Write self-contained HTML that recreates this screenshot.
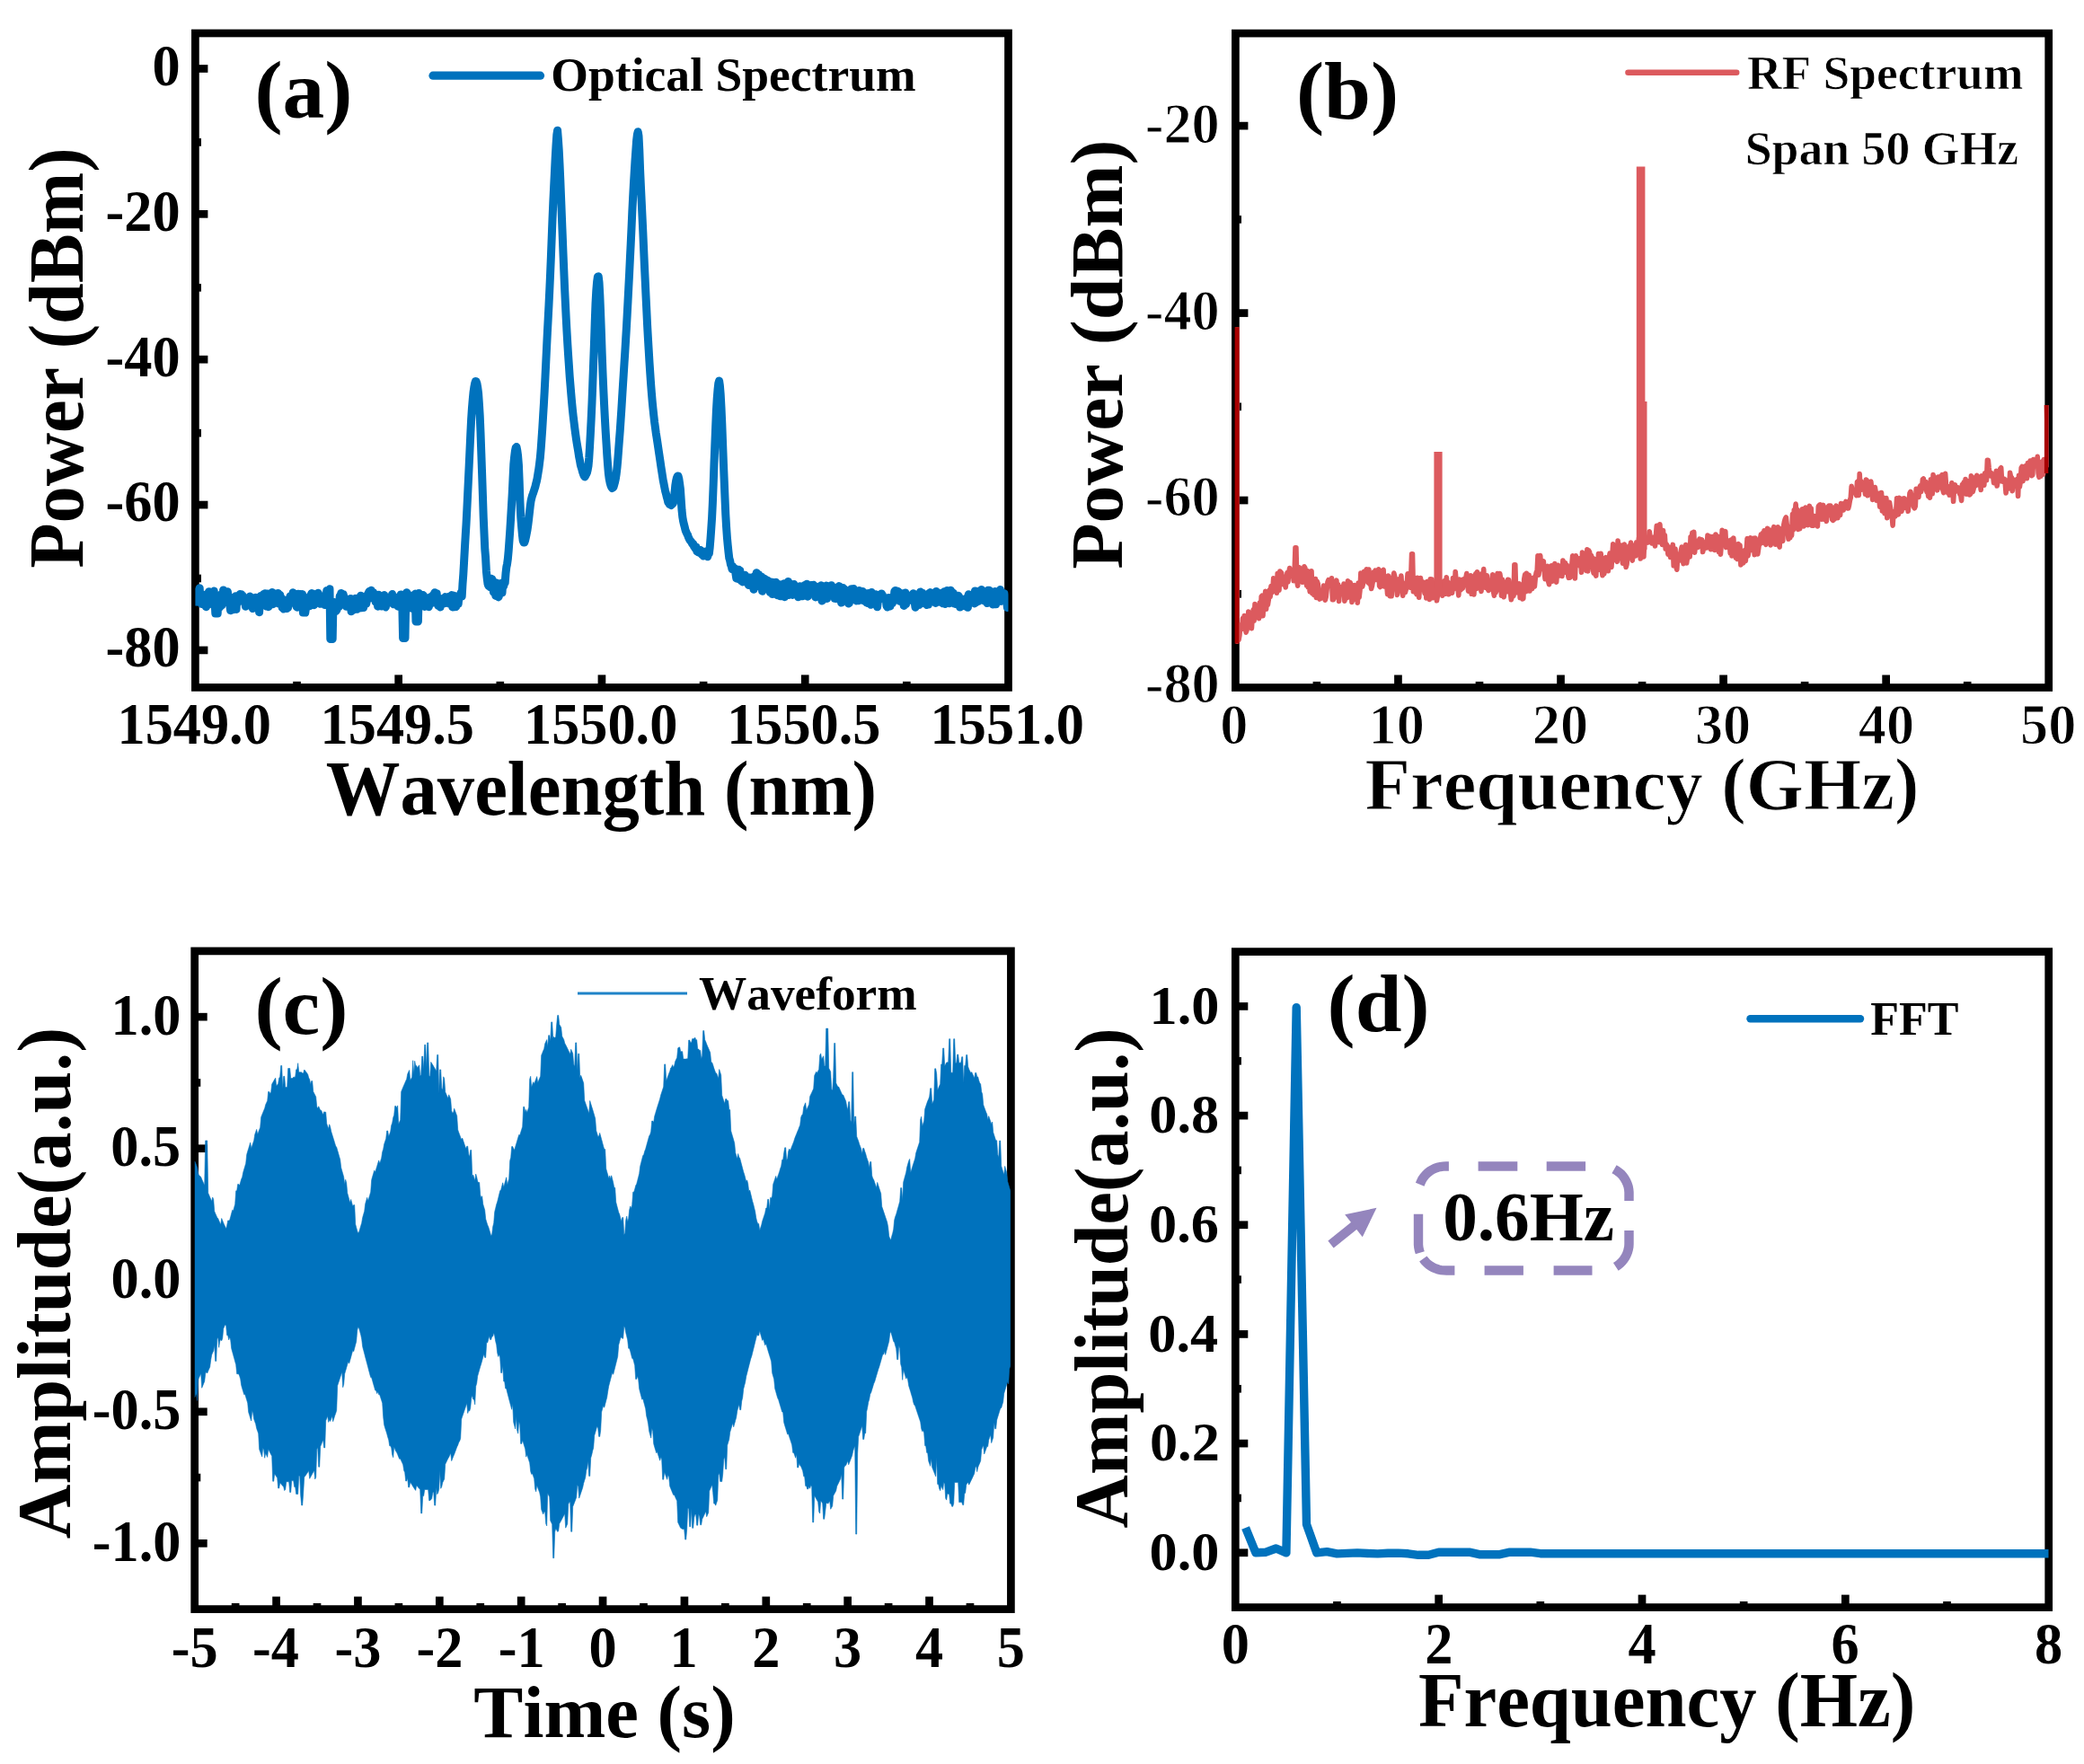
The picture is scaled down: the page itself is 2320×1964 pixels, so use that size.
<!DOCTYPE html>
<html lang="en"><head><meta charset="utf-8"><title>Figure</title>
<style>html,body{margin:0;padding:0;background:#fff;overflow:hidden;width:2320px;height:1964px}svg{display:block}text{font-family:"Liberation Serif","Times New Roman",serif;font-weight:bold;fill:#000;font-kerning:none}</style></head><body>
<svg width="2320" height="1964" viewBox="0 0 2320 1964">
<rect width="2320" height="1964" fill="#fff"/>
<defs><clipPath id="clip-a"><rect x="217.4" y="37.0" width="905.10" height="728.40"/></clipPath><clipPath id="clip-b"><rect x="1375.4" y="37.1" width="905.30" height="728.40"/></clipPath><clipPath id="clip-c"><rect x="216.7" y="1058.9" width="908.70" height="732.70"/></clipPath><clipPath id="clip-d"><rect x="1375.3" y="1059.6" width="905.40" height="730.00"/></clipPath></defs>
<g id="panel-a">
<rect x="217.4" y="37.0" width="905.10" height="728.40" fill="none" stroke="#000" stroke-width="8.7"/>
<line x1="443.68" y1="765.4" x2="443.68" y2="751.40" stroke="#000" stroke-width="8.7"/>
<line x1="669.95" y1="765.4" x2="669.95" y2="751.40" stroke="#000" stroke-width="8.7"/>
<line x1="896.23" y1="765.4" x2="896.23" y2="751.40" stroke="#000" stroke-width="8.7"/>
<line x1="330.54" y1="765.4" x2="330.54" y2="758.80" stroke="#000" stroke-width="8.7"/>
<line x1="556.81" y1="765.4" x2="556.81" y2="758.80" stroke="#000" stroke-width="8.7"/>
<line x1="783.09" y1="765.4" x2="783.09" y2="758.80" stroke="#000" stroke-width="8.7"/>
<line x1="1009.36" y1="765.4" x2="1009.36" y2="758.80" stroke="#000" stroke-width="8.7"/>
<line x1="217.4" y1="76.47" x2="231.40" y2="76.47" stroke="#000" stroke-width="8.7"/>
<line x1="217.4" y1="238.33" x2="231.40" y2="238.33" stroke="#000" stroke-width="8.7"/>
<line x1="217.4" y1="400.20" x2="231.40" y2="400.20" stroke="#000" stroke-width="8.7"/>
<line x1="217.4" y1="562.07" x2="231.40" y2="562.07" stroke="#000" stroke-width="8.7"/>
<line x1="217.4" y1="723.93" x2="231.40" y2="723.93" stroke="#000" stroke-width="8.7"/>
<line x1="217.4" y1="158.40" x2="224.00" y2="158.40" stroke="#000" stroke-width="8.7"/>
<line x1="217.4" y1="320.27" x2="224.00" y2="320.27" stroke="#000" stroke-width="8.7"/>
<line x1="217.4" y1="482.13" x2="224.00" y2="482.13" stroke="#000" stroke-width="8.7"/>
<line x1="217.4" y1="644.00" x2="224.00" y2="644.00" stroke="#000" stroke-width="8.7"/>
<path d="M217.4,674.5 218.2,661.2 219,667.1 219.8,658.3 220.6,665.4 221.4,657.6 222.2,654.8 223,669 223.8,661 224.6,672.5 225.4,666.9 226.2,668.4 227,670.3 227.8,672.8 228.6,662.8 229.4,675.7 230.2,666.1 231,660.8 231.8,673.3 232.6,658.7 233.4,666 234.2,671.6 235,660.9 235.8,670.2 236.6,666.2 237.4,667.3 238.2,658.1 239,667.4 239.8,683 240.6,683 241.4,683 242.2,683 243,665.2 243.8,676.2 244.6,676.1 245.4,662.3 246.2,671.6 247,674 247.8,669.6 248.6,656.9 249.4,660.7 250.2,664.7 251,663.6 251.8,663.8 252.6,659.5 253.4,658.8 254.2,665.6 255,671 255.8,673.3 256.6,679.7 257.4,666.7 258.2,671.2 259,678.6 259.8,678.7 260.6,665.1 261.4,674 262.2,663.8 263,678.4 263.8,666.1 264.6,670.9 265.4,666.3 266.2,664.7 267,661.6 267.8,663.5 268.6,661.7 269.4,667 270.2,663.2 271,665.8 271.8,665.8 272.6,668.1 273.4,675.3 274.2,668.4 275,667.1 275.8,669.4 276.6,668.5 277.4,666.3 278.2,664 279,668.9 279.8,665.3 280.6,672.5 281.4,677.6 282.2,676.2 283,676.2 283.8,666 284.6,665.2 285.4,667.5 286.2,673.2 287,668.2 287.8,666.9 288.6,681.7 289.4,670.4 290.2,663.4 291,669.4 291.8,671.9 292.6,667.2 293.4,661.6 294.2,669.5 295,660.7 295.8,672 296.6,675.1 297.4,660.9 298.2,671.5 299,675.7 299.8,673.2 300.6,664.3 301.4,662.6 302.2,669.1 303,659.5 303.8,672.7 304.6,666.5 305.4,663.4 306.2,670.9 307,661.5 307.8,665.3 308.6,665.7 309.4,660.4 310.2,672 311,670.5 311.8,662.6 312.6,668 313.4,665.8 314.2,676.6 315,673.3 315.8,678 316.6,674.6 317.4,676.8 318.2,668.2 319,677.5 319.8,668.1 320.6,676.5 321.4,673.2 322.2,667.7 323,663.8 323.8,670.9 324.6,670.8 325.4,669.8 326.2,659.7 327,662.2 327.8,668.2 328.6,672.1 329.4,662.5 330.2,675.7 331,676.2 331.8,661.3 332.6,670.4 333.4,665.3 334.2,661.5 335,664.3 335.8,666.1 336.6,661.6 337.4,682 338.2,682 339,682 339.8,682 340.6,676.4 341.4,667.3 342.2,665.5 343,670.2 343.8,667.8 344.6,674.7 345.4,663.3 346.2,662 347,660.6 347.8,661.9 348.6,660.9 349.4,673.7 350.2,667.4 351,665.9 351.8,669.8 352.6,663.9 353.4,668 354.2,660.3 355,661.9 355.8,667.4 356.6,672.3 357.4,665.1 358.2,669 359,665.4 359.8,664.3 360.6,669.8 361.4,673.5 362.2,673.2 363,666 363.8,657.4 364.6,658.1 365.4,661.9 366.2,666.4 367,655.8 367.8,711.5 368.6,711.5 369.4,711.5 370.2,711.5 371,670.2 371.8,675.5 372.6,675.4 373.4,678.9 374.2,680.3 375,679.1 375.8,671.5 376.6,669.7 377.4,675.5 378.2,663.7 379,665.9 379.8,660.4 380.6,663.9 381.4,667.5 382.2,661.7 383,665.1 383.8,669.8 384.6,666.5 385.4,675.2 386.2,673.2 387,669.8 387.8,675.2 388.6,671.8 389.4,670.9 390.2,666.5 391,680.8 391.8,667.7 392.6,672.5 393.4,672.6 394.2,678.7 395,668.1 395.8,666.3 396.6,674.9 397.4,678.3 398.2,670.3 399,677.4 399.8,666.3 400.6,674.7 401.4,663.3 402.2,673.7 403,676.7 403.8,666.2 404.6,676.6 405.4,672.7 406.2,668 407,663.7 407.8,672.1 408.6,667.2 409.4,667.5 410.2,660.1 411,658.6 411.8,658.1 412.6,665.8 413.4,657.2 414.2,659.9 415,664.7 415.8,659.7 416.6,662.2 417.4,662.5 418.2,670.3 419,664.3 419.8,662.5 420.6,675.2 421.4,662.3 422.2,670.5 423,669.1 423.8,665.9 424.6,675.1 425.4,674.9 426.2,669.2 427,664.9 427.8,662.5 428.6,674.5 429.4,676 430.2,664.7 431,665.9 431.8,670.6 432.6,670.8 433.4,670.7 434.2,670.1 435,670.3 435.8,671.2 436.6,661.6 437.4,669.7 438.2,672.8 439,666.6 439.8,665.6 440.6,669.6 441.4,673.2 442.2,665 443,675.2 443.8,672.8 444.6,666.2 445.4,665.4 446.2,661.9 447,664.8 447.8,673.1 448.6,710.5 449.4,710.5 450.2,710.5 451,710.5 451.8,666.7 452.6,659.7 453.4,660.3 454.2,672.3 455,667 455.8,673.4 456.6,667.1 457.4,669.1 458.2,677.2 459,670.4 459.8,663.1 460.6,669.7 461.4,662.9 462.2,661.1 463,692 463.8,692 464.6,692 465.4,692 466.2,660.6 467,668.1 467.8,662.9 468.6,663.1 469.4,666.3 470.2,663.4 471,662.6 471.8,663.5 472.6,675.4 473.4,667.2 474.2,668.8 475,673.4 475.8,674.7 476.6,674.5 477.4,675.7 478.2,670.4 479,664.8 479.8,669.8 480.6,665.4 481.4,671.2 482.2,662.5 483,670.3 483.8,659.8 484.6,666.2 485.4,666.8 486.2,660.8 487,672.2 487.8,674.3 488.6,666.1 489.4,674.2 490.2,676 491,669.9 491.8,667 492.6,671.4 493.4,667.4 494.2,670.8 495,671.8 495.8,664.6 496.6,670.4 497.4,668.4 498.2,670.1 499,664.4 499.8,671.9 500.6,663.9 501.4,668.1 502.2,669.6 503,662.6 503.8,676 504.6,671 505.4,663.3 506.2,675.8 507,673.6 507.8,675.6 508.6,670.9 509.4,668.3 510.2,672.2 511,664.2 511.8,664.4 512.6,661.4 513.4,659.4 514.2,664 515,650.1 515.8,639.3 516.6,625.3 517.4,610.7 518.2,596.8 519,583.8 519.8,567.9 520.6,551.5 521.4,534.8 522.2,518.1 523,500.8 523.8,483.2 524.6,467.2 525.4,455.1 526.2,445.3 527,436.8 527.8,431.4 528.6,427.1 529.4,424.5 530.2,424.8 531,427.2 531.8,431.7 532.6,438.1 533.4,449.6 534.2,462.7 535,481.6 535.8,504.4 536.6,526.8 537.4,550.9 538.2,575.4 539,593.8 539.8,611.6 540.6,620.9 541.4,636.1 542.2,643.9 543,650 543.8,652.3 544.6,652.4 545.4,653.7 546.2,653.7 547,644.3 547.8,644.5 548.6,647.9 549.4,659.3 550.2,651.9 551,654.2 551.8,663.4 552.6,649.1 553.4,652 554.2,654.1 555,664.9 555.8,662.5 556.6,651.2 557.4,649.6 558.2,649.2 559,660 559.8,648.8 560.6,653 561.4,649.7 562.2,648.8 563,638.6 563.8,631.5 564.6,627.7 565.4,621.8 566.2,612.9 567,601.8 567.8,590.4 568.6,577.4 569.4,564 570.2,550.2 571,533.4 571.8,517.1 572.6,508.7 573.4,502.2 574.2,498.4 575,497.6 575.8,501.6 576.6,507.7 577.4,517.3 578.2,536.7 579,560.6 579.8,576 580.6,586.1 581.4,595.1 582.2,601.9 583,604 583.8,604 584.6,601.8 585.4,598.3 586.2,594.4 587,590.1 587.8,584.6 588.6,578.2 589.4,571 590.2,563.9 591,558.1 591.8,554.6 592.6,551.6 593.4,549.5 594.2,547.1 595,544.6 595.8,542.3 596.6,538.7 597.4,535.8 598.2,531.9 599,526.7 599.8,522.1 600.6,515.7 601.4,509.1 602.2,499.7 603,488.4 603.8,476.6 604.6,463.3 605.4,450.1 606.2,435.6 607,419.6 607.8,402.7 608.6,386.1 609.4,370 610.2,355 611,339.5 611.8,322.8 612.6,304.9 613.4,285.6 614.2,264.9 615,244.5 615.8,225.8 616.6,208.9 617.4,192.8 618.2,176 619,162.1 619.8,150.3 620.6,145.2 621.4,155.1 622.2,166.8 623,182.8 623.8,200.7 624.6,220.9 625.4,241.3 626.2,261.5 627,282.3 627.8,301.8 628.6,320.9 629.4,337.6 630.2,353.9 631,369 631.8,382.7 632.6,395.5 633.4,407.2 634.2,419.3 635,429 635.8,438.7 636.6,447.9 637.4,456.2 638.2,463.6 639,470 639.8,476.6 640.6,482.6 641.4,488.3 642.2,493.5 643,498.3 643.8,503.1 644.6,508.3 645.4,512.3 646.2,517 647,520 647.8,522.5 648.6,525.5 649.4,527.9 650.2,529.8 651,530.9 651.8,529.6 652.6,528 653.4,526.3 654.2,523.1 655,518.8 655.8,509.6 656.6,496.5 657.4,481.8 658.2,465.9 659,448.1 659.8,427 660.6,405.3 661.4,383.8 662.2,359.8 663,337.9 663.8,323.6 664.6,313.8 665.4,308.1 666.2,307.7 667,314.3 667.8,328.7 668.6,348.1 669.4,369.9 670.2,393.8 671,415.3 671.8,433.6 672.6,450.7 673.4,466.2 674.2,480.8 675,493.5 675.8,506.7 676.6,517.7 677.4,527.1 678.2,533.1 679,537.2 679.8,540.1 680.6,542.2 681.4,543.5 682.2,543.1 683,542.3 683.8,539.5 684.6,536.5 685.4,532.7 686.2,527.6 687,520.6 687.8,511.5 688.6,501 689.4,490.3 690.2,480.2 691,468.3 691.8,456.3 692.6,443 693.4,429.9 694.2,417.4 695,404.5 695.8,392.1 696.6,378.4 697.4,365 698.2,350.6 699,335.6 699.8,320 700.6,304.5 701.4,287.5 702.2,271.6 703,254.2 703.8,236.1 704.6,220.2 705.4,205.2 706.2,192 707,179 707.8,167.9 708.6,156.5 709.4,149.9 710.2,146.7 711,151.6 711.8,167.2 712.6,189.5 713.4,207.1 714.2,224 715,241 715.8,258.1 716.6,276.8 717.4,294.8 718.2,311.6 719,328.9 719.8,345.2 720.6,362.1 721.4,376.5 722.2,390 723,403.5 723.8,415.6 724.6,427.5 725.4,437.6 726.2,447.2 727,455.1 727.8,462.7 728.6,469.8 729.4,475.7 730.2,481.7 731,486.7 731.8,492 732.6,497.4 733.4,502.9 734.2,508.2 735,513.5 735.8,519.1 736.6,524.2 737.4,529.4 738.2,534.6 739,538.5 739.8,542.8 740.6,546.7 741.4,549.5 742.2,552.9 743,555.7 743.8,559.2 744.6,560.1 745.4,561.6 746.2,561.9 747,562.5 747.8,561.8 748.6,561.1 749.4,560.1 750.2,556.7 751,548.7 751.8,540.4 752.6,535.5 753.4,532.1 754.2,530.1 755,529.9 755.8,533 756.6,538.4 757.4,544.4 758.2,556 759,567.8 759.8,575.6 760.6,580.2 761.4,583.6 762.2,586.7 763,590 763.8,592.2 764.6,593.9 765.4,595.3 766.2,597.6 767,599.4 767.8,601.1 768.6,602.2 769.4,602.7 770.2,604.7 771,606 771.8,605.8 772.6,608.4 773.4,609.3 774.2,610.8 775,608.9 775.8,613.8 776.6,611.6 777.4,614.8 778.2,612.9 779,615.5 779.8,612.4 780.6,616.3 781.4,617.5 782.2,616.3 783,619 783.8,617.4 784.6,615.6 785.4,614.1 786.2,614.1 787,617 787.8,619.8 788.6,615.3 789.4,616.3 790.2,609.5 791,599.6 791.8,588.3 792.6,576.1 793.4,559.2 794.2,538.6 795,516 795.8,496.5 796.6,476.7 797.4,457.6 798.2,443.9 799,434.1 799.8,426.7 800.6,424 801.4,429.5 802.2,439.2 803,454.3 803.8,472.1 804.6,494 805.4,515.3 806.2,534.4 807,554.3 807.8,572.9 808.6,586.8 809.4,598.2 810.2,606.9 811,614.7 811.8,621.5 812.6,624 813.4,628.3 814.2,630.1 815,633.7 815.8,630.7 816.6,632.9 817.4,633.8 818.2,633 819,639 819.8,643.9 820.6,643.6 821.4,644.5 822.2,634.2 823,642.6 823.8,635.1 824.6,645.6 825.4,647 826.2,640.6 827,647.9 827.8,640.9 828.6,641.7 829.4,640.2 830.2,647.5 831,645.3 831.8,645.6 832.6,645.4 833.4,651.4 834.2,643.1 835,651.5 835.8,643.3 836.6,644.5 837.4,642.7 838.2,649.7 839,656.2 839.8,643.4 840.6,640.9 841.4,645.3 842.2,637.7 843,643.8 843.8,645 844.6,639.6 845.4,653.2 846.2,645.8 847,648.2 847.8,642.3 848.6,658.2 849.4,644.9 850.2,650.6 851,644.2 851.8,644.7 852.6,646.2 853.4,649.3 854.2,646 855,652.5 855.8,655.4 856.6,648.6 857.4,659.6 858.2,648 859,656.9 859.8,661.5 860.6,656.9 861.4,648.6 862.2,648.9 863,648.6 863.8,648.2 864.6,656.8 865.4,662.7 866.2,652.4 867,658.4 867.8,650.7 868.6,663.8 869.4,653.2 870.2,651.5 871,651.3 871.8,651.2 872.6,649.8 873.4,664.7 874.2,660.5 875,650.9 875.8,658.2 876.6,655.6 877.4,647.4 878.2,662.4 879,649.8 879.8,653.2 880.6,650.4 881.4,652.7 882.2,662.4 883,660.4 883.8,650.6 884.6,659 885.4,656.6 886.2,653.1 887,659 887.8,655.3 888.6,664.7 889.4,656.1 890.2,652.8 891,663.8 891.8,653.1 892.6,661.4 893.4,663.7 894.2,661 895,663.2 895.8,651.6 896.6,655.7 897.4,658.5 898.2,650.3 899,664.2 899.8,657.6 900.6,657.9 901.4,657.6 902.2,656.7 903,651.4 903.8,652.5 904.6,654.2 905.4,651.2 906.2,660.7 907,652.9 907.8,664.9 908.6,653 909.4,655.9 910.2,664 911,659.6 911.8,654.9 912.6,660.5 913.4,655.5 914.2,651.8 915,669 915.8,668.5 916.6,663.9 917.4,657.4 918.2,661.3 919,655.1 919.8,652.1 920.6,666.4 921.4,657.7 922.2,654.3 923,661.7 923.8,656.9 924.6,661 925.4,651.8 926.2,656.8 927,656.9 927.8,654.9 928.6,654.1 929.4,666.4 930.2,666.5 931,662.6 931.8,657.9 932.6,662.8 933.4,659.6 934.2,652.6 935,662.8 935.8,665.7 936.6,671.1 937.4,667.5 938.2,654.5 939,660.9 939.8,655.8 940.6,659 941.4,664.8 942.2,661.6 943,658.6 943.8,666.5 944.6,672 945.4,671.5 946.2,656.8 947,658.8 947.8,655.7 948.6,660.1 949.4,667.6 950.2,655.5 951,664.4 951.8,661.7 952.6,663.7 953.4,668.9 954.2,661.8 955,662.5 955.8,668.8 956.6,657.4 957.4,658.4 958.2,662.2 959,661 959.8,659.3 960.6,658.6 961.4,668.9 962.2,661.8 963,660.2 963.8,667.6 964.6,670.9 965.4,668.3 966.2,671.6 967,660.5 967.8,665.9 968.6,670.4 969.4,673.3 970.2,659.5 971,669.2 971.8,662.6 972.6,665.1 973.4,670.2 974.2,672.4 975,661.7 975.8,663.9 976.6,675.8 977.4,668.8 978.2,668.4 979,662.7 979.8,665 980.6,663 981.4,660.9 982.2,662.4 983,663.7 983.8,664.8 984.6,666.1 985.4,665.4 986.2,666.3 987,674.6 987.8,675.9 988.6,675.5 989.4,665.5 990.2,672.4 991,675 991.8,666 992.6,667.2 993.4,671.9 994.2,669 995,668.6 995.8,658.5 996.6,657.6 997.4,666.8 998.2,664.1 999,658.1 999.8,658.3 1000.6,662.7 1001.4,669.3 1002.2,664.6 1003,669.5 1003.8,660.8 1004.6,669.3 1005.4,661.7 1006.2,674.5 1007,664.5 1007.8,660 1008.6,672.4 1009.4,665.3 1010.2,667.7 1011,663.1 1011.8,663.1 1012.6,665.6 1013.4,664.1 1014.2,668.3 1015,664.3 1015.8,666.6 1016.6,660.8 1017.4,669.2 1018.2,670.1 1019,676.2 1019.8,672.2 1020.6,663.6 1021.4,668 1022.2,673.4 1023,673.4 1023.8,661.4 1024.6,658.9 1025.4,666 1026.2,665.1 1027,660.1 1027.8,663.2 1028.6,664.1 1029.4,671.9 1030.2,664.4 1031,670.6 1031.8,673.5 1032.6,665.1 1033.4,673.1 1034.2,660.6 1035,666.2 1035.8,659.6 1036.6,660.5 1037.4,660.4 1038.2,666.8 1039,669 1039.8,660.5 1040.6,659.7 1041.4,671.4 1042.2,658.4 1043,662.2 1043.8,665.1 1044.6,669.9 1045.4,660.8 1046.2,664.4 1047,660.5 1047.8,670.8 1048.6,669.1 1049.4,671.7 1050.2,664.2 1051,658.8 1051.8,672.5 1052.6,658.6 1053.4,661.3 1054.2,657.4 1055,661.8 1055.8,666.8 1056.6,671.7 1057.4,664.2 1058.2,657.3 1059,670.3 1059.8,659.1 1060.6,660.4 1061.4,660.3 1062.2,672.1 1063,664.9 1063.8,672.6 1064.6,667.8 1065.4,667.7 1066.2,673 1067,663.2 1067.8,664.7 1068.6,676 1069.4,671 1070.2,667.9 1071,672.3 1071.8,674.6 1072.6,674.2 1073.4,670.4 1074.2,673.8 1075,666.4 1075.8,670.4 1076.6,676.1 1077.4,676.3 1078.2,661.8 1079,664.9 1079.8,665.6 1080.6,665.8 1081.4,664.9 1082.2,663 1083,666.2 1083.8,662.6 1084.6,671.9 1085.4,657.9 1086.2,671 1087,658.3 1087.8,669.2 1088.6,665.9 1089.4,669.3 1090.2,661.9 1091,660.3 1091.8,664.6 1092.6,656.4 1093.4,663.2 1094.2,666.8 1095,659.6 1095.8,669.1 1096.6,663 1097.4,665.5 1098.2,665.9 1099,671.6 1099.8,657.3 1100.6,659.4 1101.4,657.2 1102.2,670.6 1103,662.6 1103.8,668.8 1104.6,660.8 1105.4,673 1106.2,660.5 1107,668.5 1107.8,658.5 1108.6,672.8 1109.4,662.8 1110.2,666.7 1111,667.3 1111.8,661.8 1112.6,665.2 1113.4,656.6 1114.2,669.4 1115,664.1 1115.8,661.4 1116.6,663.3 1117.4,665.4 1118.2,660.8 1119,664.5 1119.8,669.4 1120.6,668.3 1121.4,676.6 1122.2,672.1" fill="none" stroke="#0072BD" stroke-width="9.0" stroke-linejoin="round" clip-path="url(#clip-a)"/>
<line x1="482" y1="84.2" x2="601.5" y2="84.2" stroke="#0072BD" stroke-width="9.2" stroke-linecap="round"/>
<text transform="translate(283.39,131.00) scale(1,0.9786)" font-size="93.50">(a)</text>
<text transform="translate(169.54,94.77) scale(1,1.0401)" font-size="62.30">0</text>
<text transform="translate(117.52,256.63) scale(1,1.0401)" font-size="62.30">-20</text>
<text transform="translate(117.52,418.50) scale(1,1.0401)" font-size="62.30">-40</text>
<text transform="translate(117.52,580.37) scale(1,1.0401)" font-size="62.30">-60</text>
<text transform="translate(117.52,742.23) scale(1,1.0401)" font-size="62.30">-80</text>
<text transform="translate(130.49,828.40) scale(1,1.0401)" font-size="62.30">1549.0</text>
<text transform="translate(356.61,828.40) scale(1,1.0401)" font-size="62.30">1549.5</text>
<text transform="translate(583.04,828.40) scale(1,1.0401)" font-size="62.30">1550.0</text>
<text transform="translate(809.16,828.40) scale(1,1.0401)" font-size="62.30">1550.5</text>
<text transform="translate(1035.59,828.40) scale(1,1.0401)" font-size="62.30">1551.0</text>
<text transform="translate(362.76,907.00) scale(1,1.0423)" font-size="82.70">Wavelength (nm)</text>
<text transform="translate(91.60,632.73) rotate(-90) scale(1,1.0450)" font-size="82.30">Power (dBm)</text>
<text transform="translate(613.32,101.00) scale(1,0.9701)" font-size="53.60">Optical Spectrum</text>
</g>
<g id="panel-b">
<rect x="1375.4" y="37.1" width="905.30" height="728.40" fill="none" stroke="#000" stroke-width="8.7"/>
<line x1="1556.46" y1="765.5" x2="1556.46" y2="751.50" stroke="#000" stroke-width="8.7"/>
<line x1="1737.52" y1="765.5" x2="1737.52" y2="751.50" stroke="#000" stroke-width="8.7"/>
<line x1="1918.58" y1="765.5" x2="1918.58" y2="751.50" stroke="#000" stroke-width="8.7"/>
<line x1="2099.64" y1="765.5" x2="2099.64" y2="751.50" stroke="#000" stroke-width="8.7"/>
<line x1="1465.93" y1="765.5" x2="1465.93" y2="758.90" stroke="#000" stroke-width="8.7"/>
<line x1="1646.99" y1="765.5" x2="1646.99" y2="758.90" stroke="#000" stroke-width="8.7"/>
<line x1="1828.05" y1="765.5" x2="1828.05" y2="758.90" stroke="#000" stroke-width="8.7"/>
<line x1="2009.11" y1="765.5" x2="2009.11" y2="758.90" stroke="#000" stroke-width="8.7"/>
<line x1="2190.17" y1="765.5" x2="2190.17" y2="758.90" stroke="#000" stroke-width="8.7"/>
<line x1="1375.4" y1="140.10" x2="1389.40" y2="140.10" stroke="#000" stroke-width="8.7"/>
<line x1="1375.4" y1="348.57" x2="1389.40" y2="348.57" stroke="#000" stroke-width="8.7"/>
<line x1="1375.4" y1="557.03" x2="1389.40" y2="557.03" stroke="#000" stroke-width="8.7"/>
<line x1="1375.4" y1="244.33" x2="1382.00" y2="244.33" stroke="#000" stroke-width="8.7"/>
<line x1="1375.4" y1="452.80" x2="1382.00" y2="452.80" stroke="#000" stroke-width="8.7"/>
<line x1="1375.4" y1="661.27" x2="1382.00" y2="661.27" stroke="#000" stroke-width="8.7"/>
<path d="M1376.9,364.2 1376.9,713 1376.3,700.6 1377.2,714.2 1378.1,705.3 1379,712.4 1379.9,707.5 1380.8,695.7 1381.7,698.1 1382.6,700.5 1383.5,688.2 1384.4,699.8 1385.3,685.5 1386.2,694 1387.1,704.1 1388,701.6 1388.9,694.7 1389.8,681.1 1390.7,692.4 1391.6,687.8 1392.5,686.3 1393.4,699.6 1394.3,685.3 1395.2,678.8 1396.1,691.2 1397,672.6 1397.9,684.5 1398.8,675.4 1399.7,683 1400.6,676.3 1401.5,688.6 1402.4,671.1 1403.3,686.2 1404.2,664.3 1405.1,663.1 1406,685.6 1406.9,667.6 1407.8,671.1 1408.7,658.3 1409.6,678.3 1410.5,663.5 1411.4,673.4 1412.3,667.6 1413.2,656.8 1414.1,664.5 1415,652.5 1415.9,660 1416.8,657 1417.7,643.9 1418.6,649 1419.5,647.4 1420.4,649.7 1421.3,660.3 1422.2,638.5 1423.1,643.8 1424,657.1 1424.9,636 1425.8,636.9 1426.7,638.2 1427.6,646 1428.5,650.6 1429.4,642.3 1430.3,644.5 1431.2,654 1432.1,645.5 1433,637.5 1433.9,647.9 1434.8,637.3 1435.7,632.6 1436.6,637.7 1437.5,639.5 1438.4,641.6 1439.3,635.9 1440.2,646.8 1441.1,637.1 1442,609.8 1442.9,609.8 1443.8,647.1 1444.7,652.2 1445.6,632.9 1446.5,631.9 1447.4,639.2 1448.3,644.3 1449.2,634.4 1450.1,648.3 1451,642.9 1451.9,630.8 1452.8,632.2 1453.7,643.3 1454.6,651.9 1455.5,635.5 1456.4,653.9 1457.3,648.9 1458.2,658.8 1459.1,654.5 1460,635.7 1460.9,660.7 1461.8,651 1462.7,662.4 1463.6,651.5 1464.5,644.5 1465.4,665.5 1466.3,647.4 1467.2,649.9 1468.1,665.3 1469,667 1469.9,663.5 1470.8,666.1 1471.7,660.4 1472.6,659.4 1473.5,652.1 1474.4,654.3 1475.3,668.1 1476.2,664.5 1477.1,656.4 1478,648.1 1478.9,645.7 1479.8,650.5 1480.7,647 1481.6,649.5 1482.5,643.7 1483.4,667.6 1484.3,667.6 1485.2,652.9 1486.1,654.1 1487,649.9 1487.9,646.1 1488.8,665 1489.7,650.7 1490.6,669.4 1491.5,657.1 1492.4,653.7 1493.3,654.3 1494.2,661.4 1495.1,657.3 1496,650.1 1496.9,669.1 1497.8,661.8 1498.7,650.3 1499.6,665.6 1500.5,646.8 1501.4,655.3 1502.3,659.4 1503.2,648.6 1504.1,653.2 1505,670.4 1505.9,662.3 1506.8,652.5 1507.7,651.6 1508.6,667.2 1509.5,658.9 1510.4,652.1 1511.3,671.1 1512.2,649.1 1513.1,665.1 1514,657.1 1514.9,638 1515.8,643 1516.7,653.2 1517.6,649 1518.5,636.4 1519.4,638.3 1520.3,645.7 1521.2,633.8 1522.1,639 1523,648.5 1523.9,634.1 1524.8,650.1 1525.7,646.7 1526.6,655.5 1527.5,652.2 1528.4,646.5 1529.3,636.7 1530.2,638.8 1531.1,635.1 1532,645.4 1532.9,644.3 1533.8,635.7 1534.7,633.8 1535.6,652.3 1536.5,653.5 1537.4,650.6 1538.3,647.1 1539.2,635.3 1540.1,634.4 1541,652.9 1541.9,650.2 1542.8,643.4 1543.7,649.9 1544.6,661.6 1545.5,641.1 1546.4,657 1547.3,663.6 1548.2,649.6 1549.1,663.8 1550,643.7 1550.9,642.5 1551.8,638.1 1552.7,641.5 1553.6,648.9 1554.5,652.9 1555.4,662.4 1556.3,646.8 1557.2,645 1558.1,653.1 1559,654.1 1559.9,641.1 1560.8,657.9 1561.7,663.2 1562.6,649.4 1563.5,651.3 1564.4,659.5 1565.3,656 1566.2,650.5 1567.1,638.7 1568,640.1 1568.9,647.2 1569.8,654.1 1570.7,643.7 1571.6,616.9 1572.5,616.9 1573.4,658.6 1574.3,654.2 1575.2,655 1576.1,658.7 1577,661.6 1577.9,643.4 1578.8,646.4 1579.7,665.2 1580.6,651.1 1581.5,643.6 1582.4,656.5 1583.3,652.2 1584.2,648.1 1585.1,651 1586,660.5 1586.9,650.9 1587.8,665.9 1588.7,647.5 1589.6,663.7 1590.5,649.4 1591.4,667.4 1592.3,644.7 1593.2,648.8 1594.1,645 1595,665.7 1595.9,654.1 1596.8,657.3 1597.7,651.7 1598.6,655 1599.5,668.8 1600.4,663.6 1601.3,654.7 1602.2,650.3 1603.1,650.9 1604,659.8 1604.9,654.5 1605.8,663.1 1606.7,657.5 1607.6,646.7 1608.5,652.8 1609.4,661.3 1610.3,642.9 1611.2,651.3 1612.1,648.3 1613,661.7 1613.9,653.1 1614.8,659.2 1615.7,658.3 1616.6,660.2 1617.5,643.5 1618.4,656 1619.3,654.3 1620.2,636.5 1621.1,647.4 1622,655.2 1622.9,653.7 1623.8,662.9 1624.7,645 1625.6,657.2 1626.5,656.3 1627.4,652.2 1628.3,655 1629.2,644.8 1630.1,651.7 1631,645.6 1631.9,643.1 1632.8,638.6 1633.7,650.6 1634.6,658.1 1635.5,641.3 1636.4,658.3 1637.3,640.7 1638.2,661.3 1639.1,650.3 1640,648.9 1640.9,661.9 1641.8,642.2 1642.7,638.9 1643.6,655.5 1644.5,636.8 1645.4,639.3 1646.3,650 1647.2,644.7 1648.1,650 1649,658.4 1649.9,638.9 1650.8,644.1 1651.7,633.6 1652.6,653.5 1653.5,654.1 1654.4,650.5 1655.3,640.8 1656.2,655.8 1657.1,657.3 1658,655.7 1658.9,655.8 1659.8,645.8 1660.7,647.9 1661.6,639.8 1662.5,658.5 1663.4,663.2 1664.3,643.7 1665.2,659.7 1666.1,642.7 1667,638.6 1667.9,643.7 1668.8,656.8 1669.7,638.5 1670.6,643.9 1671.5,663.1 1672.4,645 1673.3,662.3 1674.2,664.7 1675.1,657.7 1676,648.1 1676.9,656.7 1677.8,658.6 1678.7,645.4 1679.6,645.5 1680.5,655.7 1681.4,658.7 1682.3,667.7 1683.2,664.6 1684.1,659.4 1685,663.5 1685.9,628.8 1686.8,628.8 1687.7,660 1688.6,649.9 1689.5,655.7 1690.4,651.3 1691.3,649.9 1692.2,665.5 1693.1,660.7 1694,658.1 1694.9,667 1695.8,666.4 1696.7,645.1 1697.6,639.9 1698.5,658.8 1699.4,638.3 1700.3,641.2 1701.2,644.8 1702.1,640.2 1703,658 1703.9,644.2 1704.8,648.7 1705.7,655.5 1706.6,643.2 1707.5,650 1708.4,653 1709.3,643.2 1710.2,637.3 1711.1,637.7 1712,618.7 1712.9,640.2 1713.8,632 1714.7,618.5 1715.6,630 1716.5,633.3 1717.4,625.9 1718.3,625 1719.2,635.9 1720.1,644.7 1721,634.6 1721.9,641 1722.8,630.4 1723.7,647.4 1724.6,650.7 1725.5,642.5 1726.4,637.5 1727.3,629.7 1728.2,647.1 1729.1,632.2 1730,646.4 1730.9,627.6 1731.8,637.1 1732.7,648.2 1733.6,633.6 1734.5,629.3 1735.4,632.3 1736.3,641 1737.2,632 1738.1,638.2 1739,641.5 1739.9,624 1740.8,626.7 1741.7,632.6 1742.6,626.7 1743.5,637.4 1744.4,629.2 1745.3,638.4 1746.2,643.3 1747.1,641.6 1748,643 1748.9,637.6 1749.8,629.1 1750.7,618.7 1751.6,626 1752.5,634.6 1753.4,643.9 1754.3,618.7 1755.2,623.5 1756.1,623 1757,622.5 1757.9,621.9 1758.8,630 1759.7,624.3 1760.6,637.2 1761.5,615.1 1762.4,633.8 1763.3,626.2 1764.2,619.6 1765.1,633 1766,635.3 1766.9,611.8 1767.8,635.9 1768.7,612.9 1769.6,614.7 1770.5,623.2 1771.4,618.3 1772.3,621.2 1773.2,631.4 1774.1,638.2 1775,622.3 1775.9,639.4 1776.8,641.1 1777.7,622.7 1778.6,633.6 1779.5,616.6 1780.4,617.8 1781.3,634.4 1782.2,616.4 1783.1,633.7 1784,640.8 1784.9,639 1785.8,638.8 1786.7,621.8 1787.6,620.7 1788.5,632.5 1789.4,632.3 1790.3,635.7 1791.2,622.4 1792.1,616.1 1793,623.6 1793.9,631.5 1794.8,619 1795.7,605.9 1796.6,618.4 1797.5,615.7 1798.4,611.1 1799.3,624.1 1800.2,625.3 1801.1,602 1802,622 1802.9,618.7 1803.8,619.3 1804.7,607.1 1805.6,621.4 1806.5,627.3 1807.4,617.7 1808.3,606 1809.2,622.3 1810.1,631.5 1811,628.4 1811.9,620.7 1812.8,610.6 1813.7,607.8 1814.6,616.1 1815.5,604.1 1816.4,613.5 1817.3,624.1 1818.2,614.5 1819.1,608.5 1820,607.1 1820.9,618.9 1821.8,603.9 1822.7,604.7 1823.6,615.7 1824.5,599.2 1825.4,602.2 1826.3,622 1827.2,617 1828.1,601.2 1829,619 1829.9,619.8 1830.8,598.3 1831.7,604.1 1832.6,602.3 1833.5,599.9 1834.4,604.1 1835.3,603.2 1836.2,591.7 1837.1,597.7 1838,602.1 1838.9,605 1839.8,602 1840.7,598.4 1841.6,598.9 1842.5,608 1843.4,596.7 1844.3,585.3 1845.2,601.9 1846.1,588.8 1847,603.7 1847.9,583.8 1848.8,600.7 1849.7,593.2 1850.6,606.4 1851.5,590.5 1852.4,606 1853.3,595.7 1854.2,611 1855.1,605.7 1856,607.4 1856.9,617.1 1857.8,615.8 1858.7,609.4 1859.6,620.5 1860.5,614.9 1861.4,613 1862.3,606.4 1863.2,629.8 1864.1,626 1865,611 1865.9,630.9 1866.8,634.2 1867.7,619.2 1868.6,617.1 1869.5,624.2 1870.4,618.8 1871.3,613.3 1872.2,609 1873.1,617.9 1874,627.6 1874.9,625.3 1875.8,611.8 1876.7,606.5 1877.6,627 1878.5,620.9 1879.4,608.4 1880.3,610.2 1881.2,620 1882.1,597.7 1883,603.5 1883.9,593.1 1884.8,610.8 1885.7,592.2 1886.6,615.2 1887.5,606.3 1888.4,602.4 1889.3,603.7 1890.2,609.4 1891.1,606.5 1892,600 1892.9,604.1 1893.8,604.2 1894.7,600.9 1895.6,614.5 1896.5,610.9 1897.4,604.1 1898.3,608.2 1899.2,604.1 1900.1,610 1901,596.1 1901.9,598.3 1902.8,603.2 1903.7,597.3 1904.6,611.6 1905.5,602.3 1906.4,597.5 1907.3,611.5 1908.2,604.5 1909.1,612.5 1910,595 1910.9,598.5 1911.8,610.5 1912.7,597.2 1913.6,614.7 1914.5,602.5 1915.4,617.2 1916.3,606.3 1917.2,590.2 1918.1,597 1919,602.2 1919.9,593.1 1920.8,591.6 1921.7,609.5 1922.6,601.2 1923.5,605.1 1924.4,607.1 1925.3,603.8 1926.2,616 1927.1,601 1928,618.9 1928.9,616 1929.8,599 1930.7,616 1931.6,609.3 1932.5,621.3 1933.4,609.3 1934.3,622.5 1935.2,605.6 1936.1,618.4 1937,607.1 1937.9,628.9 1938.8,614.7 1939.7,626.1 1940.6,626.9 1941.5,613.5 1942.4,612.6 1943.3,624.6 1944.2,612.1 1945.1,599.5 1946,618.9 1946.9,613.6 1947.8,613.2 1948.7,598.7 1949.6,608.8 1950.5,601.6 1951.4,612.8 1952.3,599.3 1953.2,617.6 1954.1,599 1955,610.5 1955.9,606.4 1956.8,616.9 1957.7,610.5 1958.6,604 1959.5,600 1960.4,595 1961.3,604.6 1962.2,593.5 1963.1,603.7 1964,590.9 1964.9,603.2 1965.8,606.3 1966.7,601.4 1967.6,588.4 1968.5,599.6 1969.4,596.4 1970.3,590 1971.2,606.9 1972.1,600.3 1973,601.1 1973.9,590.9 1974.8,586.7 1975.7,596.1 1976.6,606.3 1977.5,592.7 1978.4,605.3 1979.3,586.8 1980.2,605.7 1981.1,609.1 1982,588.9 1982.9,600.5 1983.8,595.6 1984.7,602.4 1985.6,585.2 1986.5,580.5 1987.4,577.5 1988.3,575.9 1989.2,584 1990.1,589.5 1991,600.3 1991.9,596.8 1992.8,598.7 1993.7,586.1 1994.6,596.1 1995.5,572.6 1996.4,589.9 1997.3,567.7 1998.2,572.7 1999.1,561.1 2000,572.6 2000.9,567.5 2001.8,589.5 2002.7,580.9 2003.6,588.7 2004.5,585.3 2005.4,579.4 2006.3,566.7 2007.2,570.6 2008.1,585.9 2009,576.9 2009.9,565.1 2010.8,583.2 2011.7,577.8 2012.6,584.7 2013.5,567.3 2014.4,563.4 2015.3,570.4 2016.2,565.9 2017.1,585.1 2018,577 2018.9,585.3 2019.8,574.6 2020.7,577.3 2021.6,584.2 2022.5,582 2023.4,586 2024.3,564 2025.2,562.5 2026.1,561.9 2027,576.2 2027.9,578.2 2028.8,568.3 2029.7,562.4 2030.6,578.1 2031.5,575.3 2032.4,569.7 2033.3,580.4 2034.2,564.7 2035.1,574.2 2036,563 2036.9,571.3 2037.8,563 2038.7,565.3 2039.6,578.2 2040.5,579.4 2041.4,565.3 2042.3,578.1 2043.2,566.3 2044.1,563.2 2045,569.5 2045.9,576.7 2046.8,570.7 2047.7,569.1 2048.6,573.6 2049.5,560.5 2050.4,567.2 2051.3,561.8 2052.2,567.9 2053.1,560.6 2054,564.3 2054.9,558.4 2055.8,558.9 2056.7,565.9 2057.6,566 2058.5,562.5 2059.4,557.1 2060.3,554 2061.2,541.4 2062.1,547.6 2063,546.9 2063.9,546 2064.8,545.6 2065.7,549 2066.6,551.5 2067.5,536.6 2068.4,535.8 2069.3,551.5 2070.2,527.6 2071.1,545.7 2072,535.9 2072.9,539.8 2073.8,537.3 2074.7,545.3 2075.6,540.4 2076.5,550.2 2077.4,534.1 2078.3,534.9 2079.2,551.8 2080.1,549.5 2081,544.1 2081.9,545 2082.8,536.1 2083.7,543.9 2084.6,556.4 2085.5,546.8 2086.4,546.2 2087.3,542.5 2088.2,548 2089.1,557.1 2090,554.8 2090.9,549.4 2091.8,555.1 2092.7,564.1 2093.6,548.7 2094.5,548.5 2095.4,569 2096.3,563.1 2097.2,554.3 2098.1,571.7 2099,564 2099.9,554.5 2100.8,576.7 2101.7,567.8 2102.6,569.4 2103.5,559.3 2104.4,564.9 2105.3,569 2106.2,574.5 2107.1,585.1 2108,570.2 2108.9,569.9 2109.8,575 2110.7,570.3 2111.6,554.8 2112.5,571.2 2113.4,572.8 2114.3,554.2 2115.2,555.9 2116.1,569.4 2117,569.2 2117.9,555.3 2118.8,562.6 2119.7,554.7 2120.6,565.4 2121.5,561.5 2122.4,562.4 2123.3,556 2124.2,569.2 2125.1,559.4 2126,549 2126.9,547.4 2127.8,551.9 2128.7,554.8 2129.6,560.3 2130.5,564.5 2131.4,565.8 2132.3,563.4 2133.2,544.4 2134.1,545.1 2135,548.7 2135.9,553.5 2136.8,543.3 2137.7,540.9 2138.6,547.5 2139.5,544.3 2140.4,533.8 2141.3,532.9 2142.2,541.6 2143.1,543.5 2144,536.5 2144.9,547.5 2145.8,544.9 2146.7,552.6 2147.6,548.6 2148.5,554.2 2149.4,533.9 2150.3,538.1 2151.2,549.8 2152.1,528.5 2153,537.4 2153.9,538.8 2154.8,540.7 2155.7,542.2 2156.6,545.9 2157.5,531.1 2158.4,543.2 2159.3,532.5 2160.2,530.3 2161.1,540.1 2162,528.6 2162.9,545.6 2163.8,548.6 2164.7,535.4 2165.6,527.3 2166.5,540 2167.4,546.1 2168.3,548.4 2169.2,543.1 2170.1,551.3 2171,541.2 2171.9,549.4 2172.8,537.5 2173.7,543.6 2174.6,558.3 2175.5,542 2176.4,539.8 2177.3,547.2 2178.2,542.5 2179.1,546.1 2180,542.9 2180.9,543.4 2181.8,550.4 2182.7,550.8 2183.6,557.4 2184.5,539.5 2185.4,539.6 2186.3,536.9 2187.2,547 2188.1,533.5 2189,550.2 2189.9,535.2 2190.8,541.2 2191.7,540.1 2192.6,551 2193.5,550.2 2194.4,529.8 2195.3,544.6 2196.2,547.6 2197.1,544.3 2198,531.7 2198.9,539.7 2199.8,540.6 2200.7,529.3 2201.6,531.1 2202.5,531 2203.4,538 2204.3,535.7 2205.2,545.5 2206.1,529.8 2207,538.9 2207.9,535.8 2208.8,540.2 2209.7,526.9 2210.6,530.4 2211.5,534.8 2212.4,512.3 2213.3,512.3 2214.2,521 2215.1,527.8 2216,529.8 2216.9,526.7 2217.8,530 2218.7,529.9 2219.6,537.6 2220.5,537.7 2221.4,534 2222.3,524.2 2223.2,541 2224.1,535.7 2225,527.8 2225.9,527.8 2226.8,521.8 2227.7,520.8 2228.6,535.9 2229.5,533.2 2230.4,536.4 2231.3,533.2 2232.2,537.5 2233.1,549 2234,539.8 2234.9,534.9 2235.8,539.7 2236.7,543.8 2237.6,526.3 2238.5,530.7 2239.4,531.5 2240.3,546.6 2241.2,535.5 2242.1,534.2 2243,536.6 2243.9,538.8 2244.8,536 2245.7,533.5 2246.6,552.4 2247.5,529.3 2248.4,542.1 2249.3,535.9 2250.2,520.8 2251.1,519.4 2252,535.7 2252.9,524.1 2253.8,520.1 2254.7,519.2 2255.6,518.4 2256.5,532.6 2257.4,515.6 2258.3,527.6 2259.2,517.4 2260.1,513.1 2261,521.1 2261.9,529.6 2262.8,528.7 2263.7,511.6 2264.6,517.9 2265.5,513.5 2266.4,514 2267.3,518.7 2268.2,508.4 2269.1,526.6 2270,531.3 2270.9,514.5 2271.8,530.2 2272.7,516.8 2273.6,513.9 2274.5,528.1 2275.4,511.5 2276.3,518.5 2277.2,515.4 2278.1,517 2279,517.9 2279.9,512.3 2278.4,451" fill="none" stroke="#DC5A5E" stroke-width="5.6" stroke-linejoin="round" clip-path="url(#clip-b)"/>
<rect x="1596.4" y="503.0" width="9.2" height="152.0" fill="#DC5A5E"/>
<rect x="1821.8" y="185.5" width="9.6" height="426.5" fill="#DC5A5E"/>
<rect x="1828.5" y="447.0" width="5.0" height="165.0" fill="#DC5A5E"/>
<line x1="1377.0" y1="364.2" x2="1377.0" y2="716.5" stroke="#a80000" stroke-width="4.8"/>
<line x1="2278.1" y1="451" x2="2278.1" y2="527" stroke="#a80000" stroke-width="4.4"/>
<line x1="1812.5" y1="80.8" x2="1933.2" y2="80.8" stroke="#DC5A5E" stroke-width="6.6" stroke-linecap="round"/>
<text transform="translate(1442.99,131.50) scale(1,0.9679)" font-size="93.50">(b)</text>
<g stroke="#fff" stroke-width="1.1">
<text transform="translate(1274.72,159.20) scale(1,1.0048)" font-size="62.30">-20</text>
<text transform="translate(1274.72,366.80) scale(1,1.0048)" font-size="62.30">-40</text>
<text transform="translate(1274.72,574.40) scale(1,1.0048)" font-size="62.30">-60</text>
<text transform="translate(1274.72,782.00) scale(1,1.0048)" font-size="62.30">-80</text>
<text transform="translate(1358.22,828.30) scale(1,1.0112)" font-size="62.30">0</text>
<text transform="translate(1523.56,828.30) scale(1,1.0112)" font-size="62.30">10</text>
<text transform="translate(1705.87,828.30) scale(1,1.0112)" font-size="62.30">20</text>
<text transform="translate(1886.93,828.30) scale(1,1.0112)" font-size="62.30">30</text>
<text transform="translate(2068.77,828.30) scale(1,1.0112)" font-size="62.30">40</text>
<text transform="translate(2249.05,828.30) scale(1,1.0112)" font-size="62.30">50</text>
</g>
<g stroke="#fff" stroke-width="1.0">
<text transform="translate(1519.56,900.60) scale(1,0.9964)" font-size="82.60">Frequency (GHz)</text>
</g>
<text transform="translate(1248.60,633.76) rotate(-90) scale(1,0.9881)" font-size="84.00">Power (dBm)</text>
<g stroke="#fff" stroke-width="0.7">
<text transform="translate(1944.90,98.80) scale(1,0.9720)" font-size="53.50">RF Spectrum</text>
<text transform="translate(1942.75,182.80) scale(1,0.9777)" font-size="53.70">Span 50 GHz</text>
</g>
</g>
<g id="panel-c">
<rect x="216.7" y="1058.9" width="908.70" height="732.70" fill="none" stroke="#000" stroke-width="8.7"/>
<line x1="307.57" y1="1791.6" x2="307.57" y2="1777.60" stroke="#000" stroke-width="8.7"/>
<line x1="398.44" y1="1791.6" x2="398.44" y2="1777.60" stroke="#000" stroke-width="8.7"/>
<line x1="489.31" y1="1791.6" x2="489.31" y2="1777.60" stroke="#000" stroke-width="8.7"/>
<line x1="580.18" y1="1791.6" x2="580.18" y2="1777.60" stroke="#000" stroke-width="8.7"/>
<line x1="671.05" y1="1791.6" x2="671.05" y2="1777.60" stroke="#000" stroke-width="8.7"/>
<line x1="761.92" y1="1791.6" x2="761.92" y2="1777.60" stroke="#000" stroke-width="8.7"/>
<line x1="852.79" y1="1791.6" x2="852.79" y2="1777.60" stroke="#000" stroke-width="8.7"/>
<line x1="943.66" y1="1791.6" x2="943.66" y2="1777.60" stroke="#000" stroke-width="8.7"/>
<line x1="1034.53" y1="1791.6" x2="1034.53" y2="1777.60" stroke="#000" stroke-width="8.7"/>
<line x1="262.13" y1="1791.6" x2="262.13" y2="1785.00" stroke="#000" stroke-width="8.7"/>
<line x1="353.00" y1="1791.6" x2="353.00" y2="1785.00" stroke="#000" stroke-width="8.7"/>
<line x1="443.88" y1="1791.6" x2="443.88" y2="1785.00" stroke="#000" stroke-width="8.7"/>
<line x1="534.75" y1="1791.6" x2="534.75" y2="1785.00" stroke="#000" stroke-width="8.7"/>
<line x1="625.62" y1="1791.6" x2="625.62" y2="1785.00" stroke="#000" stroke-width="8.7"/>
<line x1="716.49" y1="1791.6" x2="716.49" y2="1785.00" stroke="#000" stroke-width="8.7"/>
<line x1="807.36" y1="1791.6" x2="807.36" y2="1785.00" stroke="#000" stroke-width="8.7"/>
<line x1="898.23" y1="1791.6" x2="898.23" y2="1785.00" stroke="#000" stroke-width="8.7"/>
<line x1="989.10" y1="1791.6" x2="989.10" y2="1785.00" stroke="#000" stroke-width="8.7"/>
<line x1="1079.96" y1="1791.6" x2="1079.96" y2="1785.00" stroke="#000" stroke-width="8.7"/>
<line x1="216.7" y1="1132.17" x2="230.70" y2="1132.17" stroke="#000" stroke-width="8.7"/>
<line x1="216.7" y1="1278.71" x2="230.70" y2="1278.71" stroke="#000" stroke-width="8.7"/>
<line x1="216.7" y1="1425.25" x2="230.70" y2="1425.25" stroke="#000" stroke-width="8.7"/>
<line x1="216.7" y1="1571.79" x2="230.70" y2="1571.79" stroke="#000" stroke-width="8.7"/>
<line x1="216.7" y1="1718.33" x2="230.70" y2="1718.33" stroke="#000" stroke-width="8.7"/>
<line x1="216.7" y1="1205.44" x2="223.30" y2="1205.44" stroke="#000" stroke-width="8.7"/>
<line x1="216.7" y1="1351.98" x2="223.30" y2="1351.98" stroke="#000" stroke-width="8.7"/>
<line x1="216.7" y1="1498.52" x2="223.30" y2="1498.52" stroke="#000" stroke-width="8.7"/>
<line x1="216.7" y1="1645.06" x2="223.30" y2="1645.06" stroke="#000" stroke-width="8.7"/>
<path d="M216.7,1292.8 217.7,1295.1 218.7,1297.5 219.7,1299.8 220.7,1306.7 221.7,1309 222.7,1309.3 223.7,1310.6 224.7,1312.9 225.7,1315.2 226.7,1317.5 227.7,1319.8 228.7,1269.9 229.7,1269.9 230.7,1269.9 231.7,1328.2 232.7,1330.5 233.7,1332.9 234.7,1335.2 235.7,1337.5 236.7,1333 237.7,1335.4 238.7,1348.6 239.7,1350.9 240.7,1353.2 241.7,1355.5 242.7,1356.6 243.7,1358.9 244.7,1361.2 245.7,1363.5 246.7,1356.5 247.7,1359 248.7,1361.4 249.7,1363.8 250.7,1365.8 251.7,1368.2 252.7,1364.3 253.7,1358.9 254.7,1358.9 255.7,1358.4 256.7,1354.7 257.7,1351 258.7,1347.2 259.7,1347.9 260.7,1344.3 261.7,1340.7 262.7,1325.8 263.7,1325.8 264.7,1318.4 265.7,1318.4 266.7,1319.8 267.7,1316.3 268.7,1312.8 269.7,1310.5 270.7,1305.3 271.7,1301.9 272.7,1298.5 273.7,1295.2 274.7,1285.4 275.7,1282 276.7,1278.7 277.7,1275.4 278.7,1272.1 279.7,1278.7 280.7,1275.7 281.7,1272.7 282.7,1269.7 283.7,1263.2 284.7,1260.3 285.7,1257.4 286.7,1263 287.7,1260.4 288.7,1257.8 289.7,1255.2 290.7,1243.7 291.7,1241.2 292.7,1238.7 293.7,1236.3 294.7,1233.9 295.7,1229.9 296.7,1227.7 297.7,1225.5 298.7,1215.4 299.7,1215.4 300.7,1217.7 301.7,1215.8 302.7,1207.1 303.7,1205.3 304.7,1203.5 305.7,1201.8 306.7,1200.2 307.7,1209.2 308.7,1207.8 309.7,1206.5 310.7,1200.2 311.7,1198.9 312.7,1186.4 313.7,1186.4 314.7,1212 315.7,1198.3 316.7,1198.3 317.7,1210.5 318.7,1210.5 319.7,1210.5 320.7,1189.5 321.7,1189.5 322.7,1189.5 323.7,1200.6 324.7,1200.6 325.7,1200.6 326.7,1199.2 327.7,1199.2 328.7,1199.2 329.7,1190.8 330.7,1190.8 331.7,1183.7 332.7,1193.8 333.7,1193.8 334.7,1193.8 335.7,1193.8 336.7,1194.9 337.7,1194.9 338.7,1191 339.7,1192.1 340.7,1193.4 341.7,1194.8 342.7,1196.3 343.7,1200.1 344.7,1201.7 345.7,1207.5 346.7,1203.6 347.7,1203.6 348.7,1215.3 349.7,1217.2 350.7,1219.2 351.7,1221.2 352.7,1232.1 353.7,1234.2 354.7,1231.7 355.7,1234 356.7,1236.3 357.7,1236.3 358.7,1238.8 359.7,1241.3 360.7,1237.8 361.7,1238.2 362.7,1238.2 363.7,1251 364.7,1253.8 365.7,1256.7 366.7,1251.8 367.7,1254.8 368.7,1259.8 369.7,1263 370.7,1266.2 371.7,1269.4 372.7,1272.7 373.7,1276 374.7,1277.3 375.7,1280.7 376.7,1284.2 377.7,1287.7 378.7,1291.2 379.7,1299.9 380.7,1303.4 381.7,1306.9 382.7,1310.5 383.7,1318.8 384.7,1313.3 385.7,1317 386.7,1328.2 387.7,1331.8 388.7,1335.5 389.7,1339.2 390.7,1335.4 391.7,1339.2 392.7,1343.1 393.7,1341.6 394.7,1341.6 395.7,1363 396.7,1366.7 397.7,1370.4 398.7,1372.9 399.7,1371.6 400.7,1368.2 401.7,1364.8 402.7,1361.4 403.7,1355.5 404.7,1352.1 405.7,1348.6 406.7,1340.3 407.7,1336.8 408.7,1333.3 409.7,1337.1 410.7,1333.8 411.7,1330.4 412.7,1327.1 413.7,1313.5 414.7,1310 415.7,1306.6 416.7,1303.1 417.7,1305 418.7,1301.7 419.7,1298.4 420.7,1295.1 421.7,1291.9 422.7,1295.5 423.7,1292.4 424.7,1289.3 425.7,1282.5 426.7,1279.4 427.7,1273.8 428.7,1270.8 429.7,1267.7 430.7,1259 431.7,1259 432.7,1265.6 433.7,1262.8 434.7,1260 435.7,1253 436.7,1250.2 437.7,1244.3 438.7,1241.5 439.7,1231.4 440.7,1231.4 441.7,1233.5 442.7,1230.9 443.7,1251.5 444.7,1249.2 445.7,1246.9 446.7,1215.4 447.7,1212.9 448.7,1210.5 449.7,1208.2 450.7,1205.9 451.7,1203.6 452.7,1201.4 453.7,1195.8 454.7,1193.6 455.7,1191.5 456.7,1203.1 457.7,1201.1 458.7,1199.3 459.7,1180.7 460.7,1197.1 461.7,1181.3 462.7,1186.6 463.7,1186.6 464.7,1188.9 465.7,1187.3 466.7,1185.8 467.7,1197.9 468.7,1196.6 469.7,1176.1 470.7,1176.1 471.7,1191.1 472.7,1163.2 473.7,1163.2 474.7,1189.1 475.7,1160.9 476.7,1160.9 477.7,1197.4 478.7,1198.8 479.7,1182.4 480.7,1184 481.7,1185.6 482.7,1187.2 483.7,1189 484.7,1190.8 485.7,1192.6 486.7,1174.4 487.7,1174.4 488.7,1217.5 489.7,1190.9 490.7,1190.9 491.7,1211.4 492.7,1213.5 493.7,1198.8 494.7,1201.1 495.7,1215.8 496.7,1218.1 497.7,1220.4 498.7,1222.7 499.7,1218.8 500.7,1221.2 501.7,1223.8 502.7,1236.7 503.7,1239.2 504.7,1238.6 505.7,1234.2 506.7,1237 507.7,1239.7 508.7,1242.5 509.7,1257.9 510.7,1260.7 511.7,1263.4 512.7,1266.2 513.7,1269 514.7,1267.1 515.7,1270.1 516.7,1273.1 517.7,1276.1 518.7,1279.1 519.7,1276.2 520.7,1276.2 521.7,1285 522.7,1288.1 523.7,1280.5 524.7,1280.5 525.7,1309.9 526.7,1308 527.7,1311.2 528.7,1314.4 529.7,1307.1 530.7,1310.5 531.7,1315.3 532.7,1316.6 533.7,1316.6 534.7,1330.2 535.7,1333.6 536.7,1331.7 537.7,1340.5 538.7,1343.9 539.7,1347.3 540.7,1357.2 541.7,1360.5 542.7,1363.8 543.7,1365.9 544.7,1369.2 545.7,1372.6 546.7,1375.9 547.7,1374.3 548.7,1365.7 549.7,1361.8 550.7,1349.3 551.7,1345.2 552.7,1341 553.7,1338 554.7,1333.9 555.7,1329.8 556.7,1325.8 557.7,1324.7 558.7,1320.7 559.7,1316.8 560.7,1322 561.7,1318.3 562.7,1314.5 563.7,1310.8 564.7,1319.2 565.7,1315.7 566.7,1312.3 567.7,1292.3 568.7,1288.6 569.7,1276.5 570.7,1276.5 571.7,1278.7 572.7,1280.5 573.7,1277 574.7,1273.6 575.7,1270.2 576.7,1266.8 577.7,1263.4 578.7,1264 579.7,1260.7 580.7,1257.5 581.7,1254.3 582.7,1232.3 583.7,1232.3 584.7,1238.6 585.7,1235.4 586.7,1238.7 587.7,1235.7 588.7,1232.8 589.7,1201.4 590.7,1198.3 591.7,1210.4 592.7,1207.4 593.7,1204.6 594.7,1206.7 595.7,1204 596.7,1201.3 597.7,1198.6 598.7,1205.6 599.7,1203.1 600.7,1200.6 601.7,1198.2 602.7,1174.9 603.7,1172.5 604.7,1170 605.7,1167.7 606.7,1162.1 607.7,1159.8 608.7,1157.6 609.7,1165.5 610.7,1152.7 611.7,1152.7 612.7,1159.4 613.7,1137.9 614.7,1137.9 615.7,1156.1 616.7,1154.3 617.7,1155.8 618.7,1154.2 619.7,1140.8 620.7,1130.4 621.7,1130.4 622.7,1140.5 623.7,1142.2 624.7,1143.9 625.7,1153.8 626.7,1155.6 627.7,1157.4 628.7,1161.4 629.7,1163.3 630.7,1165.3 631.7,1167.3 632.7,1169.4 633.7,1171.6 634.7,1173.7 635.7,1168.3 636.7,1170.6 637.7,1173 638.7,1185.1 639.7,1187.5 640.7,1160.9 641.7,1160.9 642.7,1192.1 643.7,1173.2 644.7,1173.2 645.7,1200 646.7,1197.3 647.7,1200.1 648.7,1203 649.7,1205.9 650.7,1225.2 651.7,1228 652.7,1230.9 653.7,1233.8 654.7,1236.8 655.7,1239.8 656.7,1225.5 657.7,1228.8 658.7,1232.1 659.7,1235.2 660.7,1238.5 661.7,1241.9 662.7,1245.4 663.7,1258.7 664.7,1262.1 665.7,1265.5 666.7,1265.1 667.7,1261.4 668.7,1265.1 669.7,1268.7 670.7,1272.4 671.7,1276.2 672.7,1279.6 673.7,1279.6 674.7,1301.1 675.7,1304.7 676.7,1308.3 677.7,1311.9 678.7,1308.9 679.7,1312.7 680.7,1308.8 681.7,1312.7 682.7,1316.7 683.7,1322.3 684.7,1322.3 685.7,1338.3 686.7,1342.2 687.7,1346 688.7,1349.8 689.7,1352.1 690.7,1356 691.7,1359.9 692.7,1355.6 693.7,1355.6 694.7,1374.7 695.7,1373.1 696.7,1358.4 697.7,1354.1 698.7,1360.5 699.7,1356.6 700.7,1347 701.7,1342.9 702.7,1345.4 703.7,1341.5 704.7,1327.2 705.7,1327.2 706.7,1324 707.7,1320 708.7,1318.3 709.7,1314.4 710.7,1310.5 711.7,1306.6 712.7,1298.4 713.7,1294.5 714.7,1290.6 715.7,1286.7 716.7,1285.6 717.7,1281.8 718.7,1279.3 719.7,1275.6 720.7,1272 721.7,1268.3 722.7,1264.7 723.7,1263.3 724.7,1259.8 725.7,1248.1 726.7,1248.1 727.7,1249.5 728.7,1242.8 729.7,1239.4 730.7,1236.1 731.7,1232.8 732.7,1229.6 733.7,1226.4 734.7,1223.2 735.7,1219.1 736.7,1216.1 737.7,1213 738.7,1210 739.7,1184.9 740.7,1184.9 741.7,1203.4 742.7,1200.7 743.7,1198 744.7,1195.3 745.7,1192.7 746.7,1189 747.7,1188.1 748.7,1185.6 749.7,1188.6 750.7,1186.3 751.7,1181.8 752.7,1179.6 753.7,1177.4 754.7,1167 755.7,1165.9 756.7,1165.9 757.7,1170.7 758.7,1170.7 759.7,1170.7 760.7,1179.1 761.7,1179.1 762.7,1179.1 763.7,1179.1 764.7,1178.8 765.7,1178.8 766.7,1158.1 767.7,1158.1 768.7,1160.8 769.7,1160.8 770.7,1156.6 771.7,1156.6 772.7,1156.6 773.7,1155 774.7,1157.7 775.7,1157.7 776.7,1168.1 777.7,1168.1 778.7,1169.4 779.7,1169.4 780.7,1178.9 781.7,1175.3 782.7,1147.6 783.7,1147.6 784.7,1157.7 785.7,1159.8 786.7,1162.6 787.7,1164.9 788.7,1167.2 789.7,1169.6 790.7,1172.1 791.7,1182.5 792.7,1183 793.7,1185.6 794.7,1189.1 795.7,1191.8 796.7,1194.5 797.7,1195 798.7,1197.8 799.7,1200.7 800.7,1190.6 801.7,1193.7 802.7,1196.9 803.7,1219.4 804.7,1222.5 805.7,1225.6 806.7,1228.8 807.7,1223.6 808.7,1223.6 809.7,1225.5 810.7,1225.5 811.7,1235.6 812.7,1235.6 813.7,1259 814.7,1262.4 815.7,1265.8 816.7,1269.2 817.7,1272.7 818.7,1283.3 819.7,1286.7 820.7,1290.2 821.7,1284.5 822.7,1288.2 823.7,1289.6 824.7,1293.4 825.7,1297.2 826.7,1301 827.7,1304.8 828.7,1307.7 829.7,1311.6 830.7,1315.5 831.7,1313.9 832.7,1317.9 833.7,1326.5 834.7,1325 835.7,1329.1 836.7,1333.2 837.7,1337.4 838.7,1340.7 839.7,1344.9 840.7,1349.1 841.7,1355.8 842.7,1360 843.7,1362.4 844.7,1362.4 845.7,1369.9 846.7,1366.9 847.7,1363.9 848.7,1359.5 849.7,1356.5 850.7,1353.5 851.7,1350.5 852.7,1345.1 853.7,1345.1 854.7,1335.3 855.7,1335.3 856.7,1347.1 857.7,1333.2 858.7,1334.2 859.7,1331.3 860.7,1318.5 861.7,1315.5 862.7,1312.4 863.7,1309.4 864.7,1313.2 865.7,1310.3 866.7,1307.4 867.7,1304.5 868.7,1301 869.7,1298.2 870.7,1291.3 871.7,1291.3 872.7,1283.5 873.7,1277.8 874.7,1277.8 875.7,1292.1 876.7,1289.5 877.7,1281.7 878.7,1279.1 879.7,1281.1 880.7,1278.5 881.7,1276 882.7,1273.4 883.7,1270.9 884.7,1267.5 885.7,1265 886.7,1262.6 887.7,1260.1 888.7,1257.7 889.7,1255 890.7,1252.6 891.7,1243.9 892.7,1241.4 893.7,1240.4 894.7,1232.6 895.7,1230.2 896.7,1227.8 897.7,1236.2 898.7,1234 899.7,1231.8 900.7,1229.6 901.7,1220.7 902.7,1218.5 903.7,1216.4 904.7,1214.2 905.7,1212.1 906.7,1197.5 907.7,1195.3 908.7,1193.2 909.7,1194.4 910.7,1192.4 911.7,1190.4 912.7,1174.9 913.7,1172.9 914.7,1179.5 915.7,1177.6 916.7,1175.7 917.7,1187 918.7,1186.8 919.7,1145.1 920.7,1145.1 921.7,1145.1 922.7,1189.3 923.7,1191.3 924.7,1193.2 925.7,1212.4 926.7,1214.3 927.7,1199.4 928.7,1161.5 929.7,1161.5 930.7,1205.7 931.7,1207.9 932.7,1210 933.7,1210.1 934.7,1212.3 935.7,1214.6 936.7,1216.8 937.7,1219.1 938.7,1219 939.7,1221.4 940.7,1223.8 941.7,1226.2 942.7,1232.1 943.7,1235.7 944.7,1226.7 945.7,1226.7 946.7,1246.9 947.7,1249.4 948.7,1193.7 949.7,1193.7 950.7,1252.5 951.7,1243 952.7,1243 953.7,1265.3 954.7,1267.9 955.7,1270.6 956.7,1273.9 957.7,1276.6 958.7,1279.3 959.7,1284.8 960.7,1278.4 961.7,1278.4 962.7,1281.8 963.7,1284.6 964.7,1288.4 965.7,1291.3 966.7,1294.1 967.7,1300.3 968.7,1293.5 969.7,1293.5 970.7,1309 971.7,1311.9 972.7,1313.6 973.7,1316.5 974.7,1319.5 975.7,1322.4 976.7,1316.4 977.7,1319.5 978.7,1322.7 979.7,1325.8 980.7,1328.9 981.7,1343.2 982.7,1346.1 983.7,1349.1 984.7,1352.1 985.7,1355.1 986.7,1358 987.7,1361 988.7,1366.4 989.7,1376.3 990.7,1379.1 991.7,1380.6 992.7,1376.6 993.7,1373.2 994.7,1368.8 995.7,1358.3 996.7,1354.6 997.7,1351.9 998.7,1348.3 999.7,1344.8 1000.7,1341.2 1001.7,1337.6 1002.7,1322.6 1003.7,1322.6 1004.7,1336.6 1005.7,1316.2 1006.7,1312.6 1007.7,1308.9 1008.7,1305.3 1009.7,1299.6 1010.7,1296 1011.7,1292.4 1012.7,1290.4 1013.7,1305.6 1014.7,1302.4 1015.7,1299.2 1016.7,1296.1 1017.7,1292.9 1018.7,1289.8 1019.7,1283.7 1020.7,1280.6 1021.7,1277.6 1022.7,1274.5 1023.7,1271.5 1024.7,1246.4 1025.7,1243.2 1026.7,1254.1 1027.7,1251.1 1028.7,1248.1 1029.7,1234.8 1030.7,1231.8 1031.7,1228.8 1032.7,1225.9 1033.7,1223.8 1034.7,1221 1035.7,1211.7 1036.7,1211.7 1037.7,1229.3 1038.7,1226.7 1039.7,1224.2 1040.7,1189.8 1041.7,1189.8 1042.7,1195.8 1043.7,1213.7 1044.7,1211.4 1045.7,1209.1 1046.7,1206.9 1047.7,1184.9 1048.7,1184.9 1049.7,1167 1050.7,1167 1051.7,1186.9 1052.7,1184.9 1053.7,1182.9 1054.7,1182.8 1055.7,1182.8 1056.7,1156.7 1057.7,1156.7 1058.7,1194.2 1059.7,1194.2 1060.7,1194.2 1061.7,1156.7 1062.7,1156.7 1063.7,1183.6 1064.7,1183.6 1065.7,1174 1066.7,1174 1067.7,1183.6 1068.7,1183.2 1069.7,1183.2 1070.7,1176.7 1071.7,1176.7 1072.7,1205.8 1073.7,1186.4 1074.7,1186.6 1075.7,1174.5 1076.7,1174.5 1077.7,1187.6 1078.7,1190.4 1079.7,1192.5 1080.7,1194.6 1081.7,1193.6 1082.7,1195.8 1083.7,1198.1 1084.7,1200.4 1085.7,1194.4 1086.7,1194.4 1087.7,1198.9 1088.7,1198.9 1089.7,1203 1090.7,1205.7 1091.7,1207.1 1092.7,1215.5 1093.7,1218.3 1094.7,1230 1095.7,1232.8 1096.7,1235.5 1097.7,1238.3 1098.7,1240.5 1099.7,1247 1100.7,1242.6 1101.7,1245.6 1102.7,1248.6 1103.7,1251.7 1104.7,1249.1 1105.7,1260.7 1106.7,1263.8 1107.7,1267 1108.7,1270.1 1109.7,1269.7 1110.7,1285.5 1111.7,1288.7 1112.7,1270.1 1113.7,1270.1 1114.7,1298.2 1115.7,1301.4 1116.7,1304.8 1117.7,1308 1118.7,1298.4 1119.7,1301.9 1120.7,1305.5 1121.7,1315.4 1122.7,1318.8 1123.7,1322.3 1124.7,1325.8 L1124.7,1520.8 1123.7,1524.1 1122.7,1540.7 1121.7,1538 1120.7,1541.4 1119.7,1544.8 1118.7,1548.2 1117.7,1551.5 1116.7,1560.8 1115.7,1564.2 1114.7,1567.6 1113.7,1567.9 1112.7,1571.2 1111.7,1574.5 1110.7,1577.7 1109.7,1580.9 1108.7,1590.8 1107.7,1590.8 1106.7,1583.5 1105.7,1600.4 1104.7,1603.5 1103.7,1606.6 1102.7,1597.4 1101.7,1600.3 1100.7,1603.2 1099.7,1610.6 1098.7,1610.6 1097.7,1613.4 1096.7,1616.2 1095.7,1618.9 1094.7,1609 1093.7,1611.5 1092.7,1614 1091.7,1626.4 1090.7,1628.9 1089.7,1631.3 1088.7,1633.8 1087.7,1638.6 1086.7,1632 1085.7,1634.3 1084.7,1640.6 1083.7,1642.8 1082.7,1644.9 1081.7,1647.1 1080.7,1649.1 1079.7,1651.2 1078.7,1653.2 1077.7,1650.4 1076.7,1651.4 1075.7,1653.2 1074.7,1662.3 1073.7,1662.8 1072.7,1675.6 1071.7,1675.6 1070.7,1672.5 1069.7,1672.6 1068.7,1672.6 1067.7,1672.6 1066.7,1650.5 1065.7,1650.5 1064.7,1650.5 1063.7,1650.5 1062.7,1650.5 1061.7,1674.1 1060.7,1677.3 1059.7,1677.3 1058.7,1674.1 1057.7,1674.1 1056.7,1663.6 1055.7,1663.6 1054.7,1662.8 1053.7,1670.1 1052.7,1668.2 1051.7,1652.2 1050.7,1650.2 1049.7,1658.6 1048.7,1656.5 1047.7,1654.3 1046.7,1659.7 1045.7,1657.4 1044.7,1652.5 1043.7,1652.5 1042.7,1623 1041.7,1643.9 1040.7,1641.4 1039.7,1638.8 1038.7,1636.3 1037.7,1633.7 1036.7,1623.5 1035.7,1632.4 1034.7,1629.6 1033.7,1626.8 1032.7,1617.4 1031.7,1617.4 1030.7,1609.7 1029.7,1609.7 1028.7,1595.6 1027.7,1592.8 1026.7,1593.7 1025.7,1590.7 1024.7,1583.2 1023.7,1580.3 1022.7,1577.3 1021.7,1574.3 1020.7,1571.3 1019.7,1568.2 1018.7,1565.1 1017.7,1564.2 1016.7,1561.1 1015.7,1556.1 1014.7,1552.9 1013.7,1549.4 1012.7,1546.2 1011.7,1543 1010.7,1536.6 1009.7,1533.3 1008.7,1535 1007.7,1531.6 1006.7,1528.3 1005.7,1524.9 1004.7,1536.4 1003.7,1522.3 1002.7,1518.8 1001.7,1501.6 1000.7,1498.3 999.7,1513.7 998.7,1513.7 997.7,1501.7 996.7,1498.2 995.7,1494.6 994.7,1493.4 993.7,1489.8 992.7,1486.2 991.7,1482.5 990.7,1484.8 989.7,1493.3 988.7,1497.1 987.7,1500.8 986.7,1504.6 985.7,1508.4 984.7,1504.3 983.7,1507.9 982.7,1508.1 981.7,1511.6 980.7,1515.1 979.7,1518.6 978.7,1522 977.7,1524.8 976.7,1528.2 975.7,1531.6 974.7,1535 973.7,1538.4 972.7,1540.6 971.7,1543.9 970.7,1547.2 969.7,1550.5 968.7,1552.2 967.7,1558 966.7,1561.2 965.7,1567.3 964.7,1571.7 963.7,1595.7 962.7,1595.7 961.7,1602.5 960.7,1602.5 959.7,1587.5 958.7,1590.6 957.7,1593.6 956.7,1596.7 955.7,1599.6 954.7,1618.1 953.7,1708.1 952.7,1708.1 951.7,1609.7 950.7,1612.5 949.7,1615.3 948.7,1620.2 947.7,1622.9 946.7,1625.6 945.7,1628.2 944.7,1630.8 943.7,1626.6 942.7,1629.1 941.7,1631.5 940.7,1631.8 939.7,1634.1 938.7,1669.1 937.7,1669.1 936.7,1640.9 935.7,1646.4 934.7,1648.6 933.7,1650.7 932.7,1652.7 931.7,1654.8 930.7,1659.7 929.7,1661.7 928.7,1663.5 927.7,1665.4 926.7,1676.8 925.7,1678.6 924.7,1680.3 923.7,1671.2 922.7,1672.8 921.7,1674.3 920.7,1672.9 919.7,1674.4 918.7,1683 917.7,1691.3 916.7,1691.3 915.7,1673.8 914.7,1672.3 913.7,1670.8 912.7,1685 911.7,1683.2 910.7,1672.4 909.7,1670.6 908.7,1668.8 907.7,1666.9 906.7,1665 905.7,1694.9 904.7,1694.9 903.7,1655.6 902.7,1653.5 901.7,1657.3 900.7,1655.1 899.7,1657.9 898.7,1657.9 897.7,1654.5 896.7,1654.5 895.7,1643.8 894.7,1643.8 893.7,1637.8 892.7,1635.3 891.7,1632.7 890.7,1631.7 889.7,1629.1 888.7,1634 887.7,1634 886.7,1618.9 885.7,1623.3 884.7,1620.4 883.7,1617.4 882.7,1617.4 881.7,1608.9 880.7,1605.8 879.7,1602.8 878.7,1599.7 877.7,1596.5 876.7,1597 875.7,1593.7 874.7,1590.5 873.7,1587.2 872.7,1583.8 871.7,1572.5 870.7,1572 869.7,1568.7 868.7,1565.3 867.7,1561.9 866.7,1558.5 865.7,1556.5 864.7,1553 863.7,1549.5 862.7,1546 861.7,1535.7 860.7,1532.2 859.7,1528.8 858.7,1515.9 857.7,1512.6 856.7,1509.3 855.7,1506 854.7,1502.7 853.7,1499.3 852.7,1496 851.7,1497.8 850.7,1494.3 849.7,1490.8 848.7,1492.4 847.7,1488.8 846.7,1485.2 845.7,1481.6 844.7,1487 843.7,1487 842.7,1486.1 841.7,1490.1 840.7,1494.1 839.7,1498.2 838.7,1502.2 837.7,1506.2 836.7,1510.2 835.7,1512.9 834.7,1516.9 833.7,1520.8 832.7,1524.7 831.7,1528.7 830.7,1532.6 829.7,1538.7 828.7,1542.6 827.7,1546.5 826.7,1556 825.7,1560 824.7,1569.7 823.7,1569.7 822.7,1563.6 821.7,1567.3 820.7,1571 819.7,1577.9 818.7,1581.6 817.7,1585.2 816.7,1588.8 815.7,1584.4 814.7,1587.8 813.7,1591.2 812.7,1594.6 811.7,1602.5 810.7,1605.8 809.7,1609.1 808.7,1635.7 807.7,1635.7 806.7,1621.9 805.7,1625 804.7,1641.1 803.7,1649.6 802.7,1649.5 801.7,1649.5 800.7,1639.8 799.7,1642.7 798.7,1670.2 797.7,1673.3 796.7,1676.2 795.7,1674.1 794.7,1674.1 793.7,1661.7 792.7,1653 791.7,1655.4 790.7,1657.8 789.7,1660.1 788.7,1684 787.7,1686.4 786.7,1688.7 785.7,1682.8 784.7,1684.9 783.7,1687.3 782.7,1689.4 781.7,1691.3 780.7,1697.8 779.7,1697.8 778.7,1688.8 777.7,1685.4 776.7,1698.2 775.7,1698.2 774.7,1686 773.7,1686 772.7,1689.8 771.7,1701.3 770.7,1701.3 769.7,1679.5 768.7,1699.8 767.7,1699.8 766.7,1679.5 765.7,1679.5 764.7,1702.4 763.7,1714.1 762.7,1714.1 761.7,1702.4 760.7,1702.4 759.7,1702.4 758.7,1701.8 757.7,1701.3 756.7,1699.3 755.7,1697.1 754.7,1695 753.7,1671.1 752.7,1669 751.7,1666.8 750.7,1664.5 749.7,1664.5 748.7,1662.2 747.7,1659.7 746.7,1657.2 745.7,1654.7 744.7,1644.4 743.7,1641.9 742.7,1647.3 741.7,1644.5 740.7,1641.7 739.7,1638.9 738.7,1647.2 737.7,1647.2 736.7,1625 735.7,1622 734.7,1626.2 733.7,1623.1 732.7,1619.9 731.7,1616.6 730.7,1617.8 729.7,1614.4 728.7,1611 727.7,1607.5 726.7,1593.4 725.7,1590 724.7,1601.1 723.7,1597.4 722.7,1593.7 721.7,1585.8 720.7,1580.4 719.7,1576.7 718.7,1568.4 717.7,1564.7 716.7,1561 715.7,1557.2 714.7,1558.2 713.7,1554.3 712.7,1550.4 711.7,1546.5 710.7,1535.9 709.7,1532.1 708.7,1535.5 707.7,1535.5 706.7,1520.5 705.7,1516.6 704.7,1512.7 703.7,1512.4 702.7,1508.4 701.7,1504.4 700.7,1501.3 699.7,1501.3 698.7,1491.9 697.7,1487.8 696.7,1483.8 695.7,1478.3 694.7,1476.6 693.7,1490.2 692.7,1490.2 691.7,1488.8 690.7,1489.9 689.7,1493.7 688.7,1497.5 687.7,1510.3 686.7,1514.3 685.7,1518.3 684.7,1522.3 683.7,1526.3 682.7,1530.3 681.7,1528 680.7,1531.8 679.7,1535.6 678.7,1539.4 677.7,1543.2 676.7,1549.1 675.7,1555.8 674.7,1559.6 673.7,1563.4 672.7,1567.2 671.7,1564.8 670.7,1568.4 669.7,1572 668.7,1592.3 667.7,1599.4 666.7,1599.4 665.7,1590.1 664.7,1588.1 663.7,1591.6 662.7,1595 661.7,1598.3 660.7,1611.9 659.7,1615.4 658.7,1619.9 657.7,1623.3 656.7,1643.4 655.7,1643.4 654.7,1626.5 653.7,1634.1 652.7,1637.3 651.7,1645.1 650.7,1648.3 649.7,1651.4 648.7,1656.2 647.7,1659.2 646.7,1662.2 645.7,1665.2 644.7,1668.1 643.7,1655.2 642.7,1652.9 641.7,1667.1 640.7,1669.8 639.7,1672.4 638.7,1675 637.7,1677.5 636.7,1705.3 635.7,1705.3 634.7,1672.6 633.7,1672.6 632.7,1674.8 631.7,1696.8 630.7,1699 629.7,1701.2 628.7,1685.2 627.7,1687.2 626.7,1689.2 625.7,1691.1 624.7,1693 623.7,1694.8 622.7,1696.6 621.7,1704.7 620.7,1705.4 619.7,1703.6 618.7,1701.8 617.7,1705.7 616.7,1734.7 615.7,1734.7 614.7,1697.2 613.7,1695.1 612.7,1693 611.7,1666.7 610.7,1664.7 609.7,1662.6 608.7,1698.9 607.7,1696.5 606.7,1683.2 605.7,1683.2 604.7,1685.9 603.7,1683.3 602.7,1680.7 601.7,1666.7 600.7,1661.8 599.7,1659.2 598.7,1656.5 597.7,1653.7 596.7,1660.8 595.7,1657.9 594.7,1646.5 593.7,1643.6 592.7,1640.7 591.7,1641.4 590.7,1638.3 589.7,1628.8 588.7,1625.7 587.7,1622.7 586.7,1619.5 585.7,1622.1 584.7,1613.2 583.7,1610 582.7,1606.7 581.7,1603.4 580.7,1607.4 579.7,1607.4 578.7,1586.1 577.7,1582.7 576.7,1596.1 575.7,1592.5 574.7,1577 573.7,1591 572.7,1587.3 571.7,1583.5 570.7,1562.8 569.7,1569.3 568.7,1565.5 567.7,1561.7 566.7,1557.9 565.7,1554.1 564.7,1550.2 563.7,1545.9 562.7,1545.9 561.7,1538 560.7,1538 559.7,1520.4 558.7,1528.5 557.7,1528.5 556.7,1511.8 555.7,1508 554.7,1510.4 553.7,1506.4 552.7,1497.3 551.7,1493.4 550.7,1487.5 549.7,1483.7 548.7,1487.9 547.7,1487.9 546.7,1491.5 545.7,1491.5 544.7,1487.6 543.7,1491.3 542.7,1495 541.7,1494.5 540.7,1511.4 539.7,1511.4 538.7,1507.6 537.7,1511.2 536.7,1514.8 535.7,1518.4 534.7,1521.5 533.7,1525.1 532.7,1528.6 531.7,1532.1 530.7,1540.1 529.7,1543.6 528.7,1563.8 527.7,1558 526.7,1558 525.7,1553.5 524.7,1556.9 523.7,1567.7 522.7,1571.1 521.7,1570.2 520.7,1573.5 519.7,1562.3 518.7,1565.3 517.7,1568.3 516.7,1571.3 515.7,1574.2 514.7,1577.1 513.7,1580 512.7,1601.4 511.7,1604.4 510.7,1606 509.7,1608.9 508.7,1611 507.7,1613.8 506.7,1616.5 505.7,1619.2 504.7,1621.4 503.7,1624 502.7,1626.6 501.7,1617.7 500.7,1620.1 499.7,1622.4 498.7,1623.9 497.7,1626.1 496.7,1628.2 495.7,1630.3 494.7,1646.7 493.7,1648.7 492.7,1650.8 491.7,1655.4 490.7,1657.3 489.7,1637.2 488.7,1658.1 487.7,1662 486.7,1663.7 485.7,1656.3 484.7,1676.1 483.7,1676.1 482.7,1660.7 481.7,1662 480.7,1668.5 479.7,1669.7 478.7,1670.7 477.7,1670.7 476.7,1658.5 475.7,1658.5 474.7,1658.5 473.7,1658.5 472.7,1658.5 471.7,1665.6 470.7,1665.6 469.7,1684.9 468.7,1684.9 467.7,1657.9 466.7,1657.4 465.7,1656.2 464.7,1655 463.7,1653.7 462.7,1659.4 461.7,1658 460.7,1656.5 459.7,1654.9 458.7,1653.3 457.7,1651.7 456.7,1649.9 455.7,1655.9 454.7,1655.9 453.7,1645.5 452.7,1649 451.7,1649 450.7,1639.4 449.7,1637.3 448.7,1630.8 447.7,1628.6 446.7,1626.4 445.7,1624.1 444.7,1624.4 443.7,1622 442.7,1619.5 441.7,1617 440.7,1616.1 439.7,1613.4 438.7,1610.7 437.7,1622.7 436.7,1619.8 435.7,1612.1 434.7,1609.8 433.7,1609.8 432.7,1603.1 431.7,1600 430.7,1596.3 429.7,1593.1 428.7,1589.9 427.7,1586.6 426.7,1577.7 425.7,1562.2 424.7,1559.1 423.7,1555.9 422.7,1552.8 421.7,1552.7 420.7,1549.4 419.7,1551.6 418.7,1548.2 417.7,1548 416.7,1544.5 415.7,1540.9 414.7,1537.4 413.7,1533.8 412.7,1533.6 411.7,1529.9 410.7,1526.2 409.7,1522.3 408.7,1518.5 407.7,1514.8 406.7,1511 405.7,1507 404.7,1503.3 403.7,1499.5 402.7,1491.1 401.7,1486.2 400.7,1482.6 399.7,1478.9 398.7,1477.4 397.7,1481 396.7,1493.4 395.7,1497.2 394.7,1501 393.7,1504.8 392.7,1503.6 391.7,1507.2 390.7,1510.9 389.7,1514.5 388.7,1518.1 387.7,1515.8 386.7,1519.3 385.7,1522.8 384.7,1526.2 383.7,1529.6 382.7,1541.2 381.7,1544.7 380.7,1527.4 379.7,1530.5 378.7,1533.6 377.7,1536.7 376.7,1539.7 375.7,1542.8 374.7,1570.3 373.7,1573.6 372.7,1576.3 371.7,1579.5 370.7,1582.7 369.7,1576.6 368.7,1579.6 367.7,1582.5 366.7,1580.6 365.7,1583.4 364.7,1576.6 363.7,1579.2 362.7,1581.7 361.7,1611.9 360.7,1611.9 359.7,1603 358.7,1605.5 357.7,1608 356.7,1610.4 355.7,1633.2 354.7,1633.2 353.7,1611.5 352.7,1613.7 351.7,1644.7 350.7,1646.9 349.7,1636.9 348.7,1638.9 347.7,1640.8 346.7,1642.7 345.7,1644.5 344.7,1646.3 343.7,1637.5 342.7,1639.1 341.7,1640.6 340.7,1642 339.7,1643.4 338.7,1644.7 337.7,1661.9 336.7,1676 335.7,1676 334.7,1665 333.7,1643.2 332.7,1643.2 331.7,1663.5 330.7,1663.5 329.7,1663.5 328.7,1655.5 327.7,1655.5 326.7,1648.6 325.7,1648.6 324.7,1648.6 323.7,1661.5 322.7,1661.5 321.7,1649.8 320.7,1649.8 319.7,1649.8 318.7,1649.8 317.7,1658.5 316.7,1659.6 315.7,1655.3 314.7,1654.4 313.7,1653.2 312.7,1652 311.7,1650.7 310.7,1657 309.7,1657 308.7,1645.5 307.7,1644 306.7,1642.4 305.7,1640.7 304.7,1649.2 303.7,1649.2 302.7,1621.3 301.7,1619.4 300.7,1617.5 299.7,1615.5 298.7,1613.5 297.7,1622.4 296.7,1620.1 295.7,1617.9 294.7,1623.3 293.7,1614.6 292.7,1612.1 291.7,1621.9 290.7,1619.2 289.7,1616.5 288.7,1613.7 287.7,1596 286.7,1593.3 285.7,1590.5 284.7,1585.6 283.7,1582.8 282.7,1579.9 281.7,1573.5 280.7,1570.6 279.7,1582 278.7,1578.9 277.7,1575.6 276.7,1572.4 275.7,1562.1 274.7,1558.8 273.7,1555.6 272.7,1552.3 271.7,1552.7 270.7,1549.3 269.7,1545.9 268.7,1542.4 267.7,1535.5 266.7,1532 265.7,1529.7 264.7,1529.7 263.7,1529.7 262.7,1519.5 261.7,1515.9 260.7,1512.3 259.7,1508.7 258.7,1505 257.7,1501.4 256.7,1492.1 255.7,1488.6 254.7,1491.8 253.7,1486.7 252.7,1486.7 251.7,1476.1 250.7,1474.7 249.7,1477 248.7,1479.3 247.7,1490.3 246.7,1492.8 245.7,1491.2 244.7,1493.6 243.7,1500.3 242.7,1488.7 241.7,1490.9 240.7,1515.4 239.7,1515.4 238.7,1497.5 237.7,1503.9 236.7,1506.1 235.7,1508.4 234.7,1514 233.7,1521.9 232.7,1524.3 231.7,1526.6 230.7,1529 229.7,1527.2 228.7,1529.5 227.7,1538 226.7,1540.4 225.7,1542.9 224.7,1545.3 223.7,1529.3 222.7,1531.4 221.7,1533.6 220.7,1535.8 219.7,1559.5 218.7,1551.3 217.7,1553.6 216.7,1555.9Z" fill="#0072BD" stroke="#0072BD" stroke-width="0.6" stroke-linejoin="miter" clip-path="url(#clip-c)"/>
<line x1="643" y1="1106" x2="765" y2="1106" stroke="#1f83c8" stroke-width="3.2"/>
<text transform="translate(283.38,1151.00) scale(1,0.9755)" font-size="93.80">(c)</text>
<text transform="translate(123.62,1151.87) scale(1,1.0401)" font-size="62.30">1.0</text>
<text transform="translate(123.31,1298.41) scale(1,1.0401)" font-size="62.30">0.5</text>
<text transform="translate(123.62,1444.95) scale(1,1.0401)" font-size="62.30">0.0</text>
<text transform="translate(102.75,1591.49) scale(1,1.0401)" font-size="62.30">-0.5</text>
<text transform="translate(102.75,1738.03) scale(1,1.0401)" font-size="62.30">-1.0</text>
<text transform="translate(190.85,1856.30) scale(1,1.0401)" font-size="62.30">-5</text>
<text transform="translate(281.09,1856.30) scale(1,1.0401)" font-size="62.30">-4</text>
<text transform="translate(372.43,1856.30) scale(1,1.0401)" font-size="62.30">-3</text>
<text transform="translate(463.61,1856.30) scale(1,1.0401)" font-size="62.30">-2</text>
<text transform="translate(554.79,1856.30) scale(1,1.0401)" font-size="62.30">-1</text>
<text transform="translate(655.47,1856.30) scale(1,1.0401)" font-size="62.30">0</text>
<text transform="translate(745.41,1856.30) scale(1,1.0401)" font-size="62.30">1</text>
<text transform="translate(837.37,1856.30) scale(1,1.0401)" font-size="62.30">2</text>
<text transform="translate(927.93,1856.30) scale(1,1.0401)" font-size="62.30">3</text>
<text transform="translate(1019.11,1856.30) scale(1,1.0401)" font-size="62.30">4</text>
<text transform="translate(1109.67,1856.30) scale(1,1.0401)" font-size="62.30">5</text>
<text transform="translate(527.36,1934.20) scale(1,0.9964)" font-size="82.60">Time (s)</text>
<text transform="translate(78.00,1713.24) rotate(-90) scale(1,1.0000)" font-size="84.00">Amplitude(a.u.)</text>
<text transform="translate(778.00,1124.30) scale(1,1.0038)" font-size="53.30">Waveform</text>
</g>
<g id="panel-d">
<rect x="1375.3" y="1059.6" width="905.40" height="730.00" fill="none" stroke="#000" stroke-width="8.7"/>
<line x1="1601.65" y1="1789.6" x2="1601.65" y2="1775.60" stroke="#000" stroke-width="8.7"/>
<line x1="1828.00" y1="1789.6" x2="1828.00" y2="1775.60" stroke="#000" stroke-width="8.7"/>
<line x1="2054.35" y1="1789.6" x2="2054.35" y2="1775.60" stroke="#000" stroke-width="8.7"/>
<line x1="1488.47" y1="1789.6" x2="1488.47" y2="1783.00" stroke="#000" stroke-width="8.7"/>
<line x1="1714.82" y1="1789.6" x2="1714.82" y2="1783.00" stroke="#000" stroke-width="8.7"/>
<line x1="1941.17" y1="1789.6" x2="1941.17" y2="1783.00" stroke="#000" stroke-width="8.7"/>
<line x1="2167.52" y1="1789.6" x2="2167.52" y2="1783.00" stroke="#000" stroke-width="8.7"/>
<line x1="1375.3" y1="1728.77" x2="1389.30" y2="1728.77" stroke="#000" stroke-width="8.7"/>
<line x1="1375.3" y1="1607.10" x2="1389.30" y2="1607.10" stroke="#000" stroke-width="8.7"/>
<line x1="1375.3" y1="1485.43" x2="1389.30" y2="1485.43" stroke="#000" stroke-width="8.7"/>
<line x1="1375.3" y1="1363.77" x2="1389.30" y2="1363.77" stroke="#000" stroke-width="8.7"/>
<line x1="1375.3" y1="1242.10" x2="1389.30" y2="1242.10" stroke="#000" stroke-width="8.7"/>
<line x1="1375.3" y1="1120.43" x2="1389.30" y2="1120.43" stroke="#000" stroke-width="8.7"/>
<line x1="1375.3" y1="1667.93" x2="1381.90" y2="1667.93" stroke="#000" stroke-width="8.7"/>
<line x1="1375.3" y1="1546.27" x2="1381.90" y2="1546.27" stroke="#000" stroke-width="8.7"/>
<line x1="1375.3" y1="1424.60" x2="1381.90" y2="1424.60" stroke="#000" stroke-width="8.7"/>
<line x1="1375.3" y1="1302.93" x2="1381.90" y2="1302.93" stroke="#000" stroke-width="8.7"/>
<line x1="1375.3" y1="1181.27" x2="1381.90" y2="1181.27" stroke="#000" stroke-width="8.7"/>
<path d="M1386.6,1700.9 1397.9,1728.8 1409.3,1728.2 1420.6,1724 1431.9,1728.8 1443.2,1121.7 1454.5,1697.2 1465.8,1728.8 1477.2,1727.6 1488.5,1729.9 1499.8,1729.4 1511.1,1728.9 1522.4,1729.5 1533.7,1729.9 1545.1,1729.3 1556.4,1729.1 1567.7,1729.8 1579,1731.3 1590.3,1731.3 1601.6,1728.2 1613,1728.2 1624.3,1728.2 1635.6,1728.2 1646.9,1730.7 1658.2,1730.7 1669.6,1730.7 1680.9,1728.2 1692.2,1728.2 1703.5,1728.2 1714.8,1729.7 1726.1,1729.7 1737.5,1729.7 1748.8,1729.7 1760.1,1729.7 1771.4,1729.7 1782.7,1729.7 1794,1729.7 1805.4,1729.7 1816.7,1729.7 1828,1729.7 1839.3,1729.7 1850.6,1729.7 1862,1729.7 1873.3,1729.7 1884.6,1729.7 1895.9,1729.7 1907.2,1729.7 1918.5,1729.7 1929.9,1729.7 1941.2,1729.7 1952.5,1729.7 1963.8,1729.7 1975.1,1729.7 1986.4,1729.7 1997.8,1729.7 2009.1,1729.7 2020.4,1729.7 2031.7,1729.7 2043,1729.7 2054.3,1729.7 2065.7,1729.7 2077,1729.7 2088.3,1729.7 2099.6,1729.7 2110.9,1729.7 2122.3,1729.7 2133.6,1729.7 2144.9,1729.7 2156.2,1729.7 2167.5,1729.7 2178.8,1729.7 2190.2,1729.7 2201.5,1729.7 2212.8,1729.7 2224.1,1729.7 2235.4,1729.7 2246.7,1729.7 2258.1,1729.7 2269.4,1729.7 2280.7,1729.7" fill="none" stroke="#0072BD" stroke-width="9.4" stroke-linejoin="round" clip-path="url(#clip-d)"/>
<line x1="1948.5" y1="1134.3" x2="2071" y2="1134.3" stroke="#0072BD" stroke-width="8.4" stroke-linecap="round"/>
<text transform="translate(1477.61,1148.00) scale(1,0.9710)" font-size="93.20">(d)</text>
<text transform="translate(1279.62,1747.97) scale(1,0.9920)" font-size="62.30">0.0</text>
<text transform="translate(1279.93,1626.30) scale(1,0.9920)" font-size="62.30">0.2</text>
<text transform="translate(1278.37,1504.63) scale(1,0.9920)" font-size="62.30">0.4</text>
<text transform="translate(1278.99,1382.97) scale(1,0.9920)" font-size="62.30">0.6</text>
<text transform="translate(1279.31,1261.30) scale(1,0.9920)" font-size="62.30">0.8</text>
<text transform="translate(1279.62,1139.63) scale(1,0.9920)" font-size="62.30">1.0</text>
<text transform="translate(1359.72,1852.00) scale(1,1.0401)" font-size="62.30">0</text>
<text transform="translate(1586.23,1852.00) scale(1,1.0401)" font-size="62.30">2</text>
<text transform="translate(1812.58,1852.00) scale(1,1.0401)" font-size="62.30">4</text>
<text transform="translate(2038.62,1852.00) scale(1,1.0401)" font-size="62.30">6</text>
<text transform="translate(2265.12,1852.00) scale(1,1.0401)" font-size="62.30">8</text>
<text transform="translate(1578.96,1921.90) scale(1,1.0556)" font-size="82.70">Frequency (Hz)</text>
<text transform="translate(1255.00,1701.42) rotate(-90) scale(1,1.0280)" font-size="82.20">Amplitude(a.u.)</text>
<text transform="translate(2082.22,1152.00) scale(1,1.0058)" font-size="52.00">FFT</text>
<path d="M1580.7,1318.7 1581.9,1315.8 1583.3,1313.0 1585.1,1310.4 1587.1,1308.0 1589.4,1305.8 1591.9,1303.9 1594.6,1302.2 1597.4,1300.8 1600.4,1299.8 1603.5,1299.0 1606.6,1298.6 1609.8,1298.5 1612.9,1298.5" fill="none" stroke="#9485BD" stroke-width="10.4"/>
<path d="M1645.6,1298.5 1648.7,1298.5 1651.9,1298.5 1655.0,1298.5 1658.1,1298.5 1661.2,1298.5 1664.3,1298.5 1667.5,1298.5 1670.6,1298.5 1673.7,1298.5 1676.8,1298.5 1679.9,1298.5 1683.1,1298.5 1686.2,1298.5 1689.3,1298.5" fill="none" stroke="#9485BD" stroke-width="10.4"/>
<path d="M1721.7,1298.5 1724.8,1298.5 1727.9,1298.5 1731.0,1298.5 1734.1,1298.5 1737.2,1298.5 1740.3,1298.5 1743.4,1298.5 1746.5,1298.5 1749.6,1298.5 1752.7,1298.5 1755.8,1298.5 1758.9,1298.5 1762.0,1298.5 1765.1,1298.5" fill="none" stroke="#9485BD" stroke-width="10.4"/>
<path d="M1797.0,1301.7 1799.8,1303.3 1802.4,1305.2 1804.8,1307.3 1806.9,1309.7 1808.7,1312.3 1810.3,1315.1 1811.6,1318.0 1812.6,1321.1 1813.2,1324.2 1813.5,1327.4 1813.5,1330.6 1813.5,1333.8 1813.5,1337.0" fill="none" stroke="#9485BD" stroke-width="10.4"/>
<path d="M1813.5,1370.0 1813.5,1373.1 1813.5,1376.1 1813.5,1379.1 1813.5,1382.2 1813.5,1385.2 1813.3,1388.2 1812.7,1391.2 1811.9,1394.1 1810.8,1396.9 1809.4,1399.6 1807.7,1402.2 1805.8,1404.5 1803.7,1406.7 1801.4,1408.6 1798.8,1410.3" fill="none" stroke="#9485BD" stroke-width="10.4"/>
<path d="M1772.5,1414.5 1769.4,1414.5 1766.3,1414.5 1763.3,1414.5 1760.2,1414.5 1757.2,1414.5 1754.1,1414.5 1751.0,1414.5 1748.0,1414.5 1744.9,1414.5 1741.8,1414.5 1738.8,1414.5 1735.7,1414.5 1732.6,1414.5 1729.6,1414.5" fill="none" stroke="#9485BD" stroke-width="10.4"/>
<path d="M1695.9,1414.5 1692.8,1414.5 1689.7,1414.5 1686.6,1414.5 1683.5,1414.5 1680.4,1414.5 1677.3,1414.5 1674.2,1414.5 1671.1,1414.5 1668.0,1414.5 1664.9,1414.5 1661.9,1414.5 1658.8,1414.5 1655.7,1414.5 1652.6,1414.5" fill="none" stroke="#9485BD" stroke-width="10.4"/>
<path d="M1619.4,1414.5 1616.3,1414.5 1613.3,1414.5 1610.3,1414.5 1607.3,1414.4 1604.2,1414.1 1601.3,1413.5 1598.4,1412.5 1595.6,1411.3 1593.0,1409.8 1590.5,1408.1 1588.2,1406.1 1586.1,1403.9 1584.3,1401.5" fill="none" stroke="#9485BD" stroke-width="10.4"/>
<path d="M1580.8,1394.8 1579.9,1391.8 1579.3,1388.8 1579.0,1385.7 1579.0,1382.6 1579.0,1379.5 1579.0,1376.4 1579.0,1373.3 1579.0,1370.2 1579.0,1367.1 1579.0,1364.0 1579.0,1360.9 1579.0,1357.9 1579.0,1354.8 1579.0,1351.7" fill="none" stroke="#9485BD" stroke-width="10.4"/>
<path d="M1481.5,1385.5 L1512,1361" stroke="#9485BD" stroke-width="10" fill="none"/>
<path d="M1532.5,1344.8 L1497.2,1352.3 L1516.8,1377.2 Z" fill="#9485BD"/>
<text transform="translate(1606.21,1380.80) scale(1,1.0104)" font-size="77.20">0.6Hz</text>
</g>
</svg></body></html>
